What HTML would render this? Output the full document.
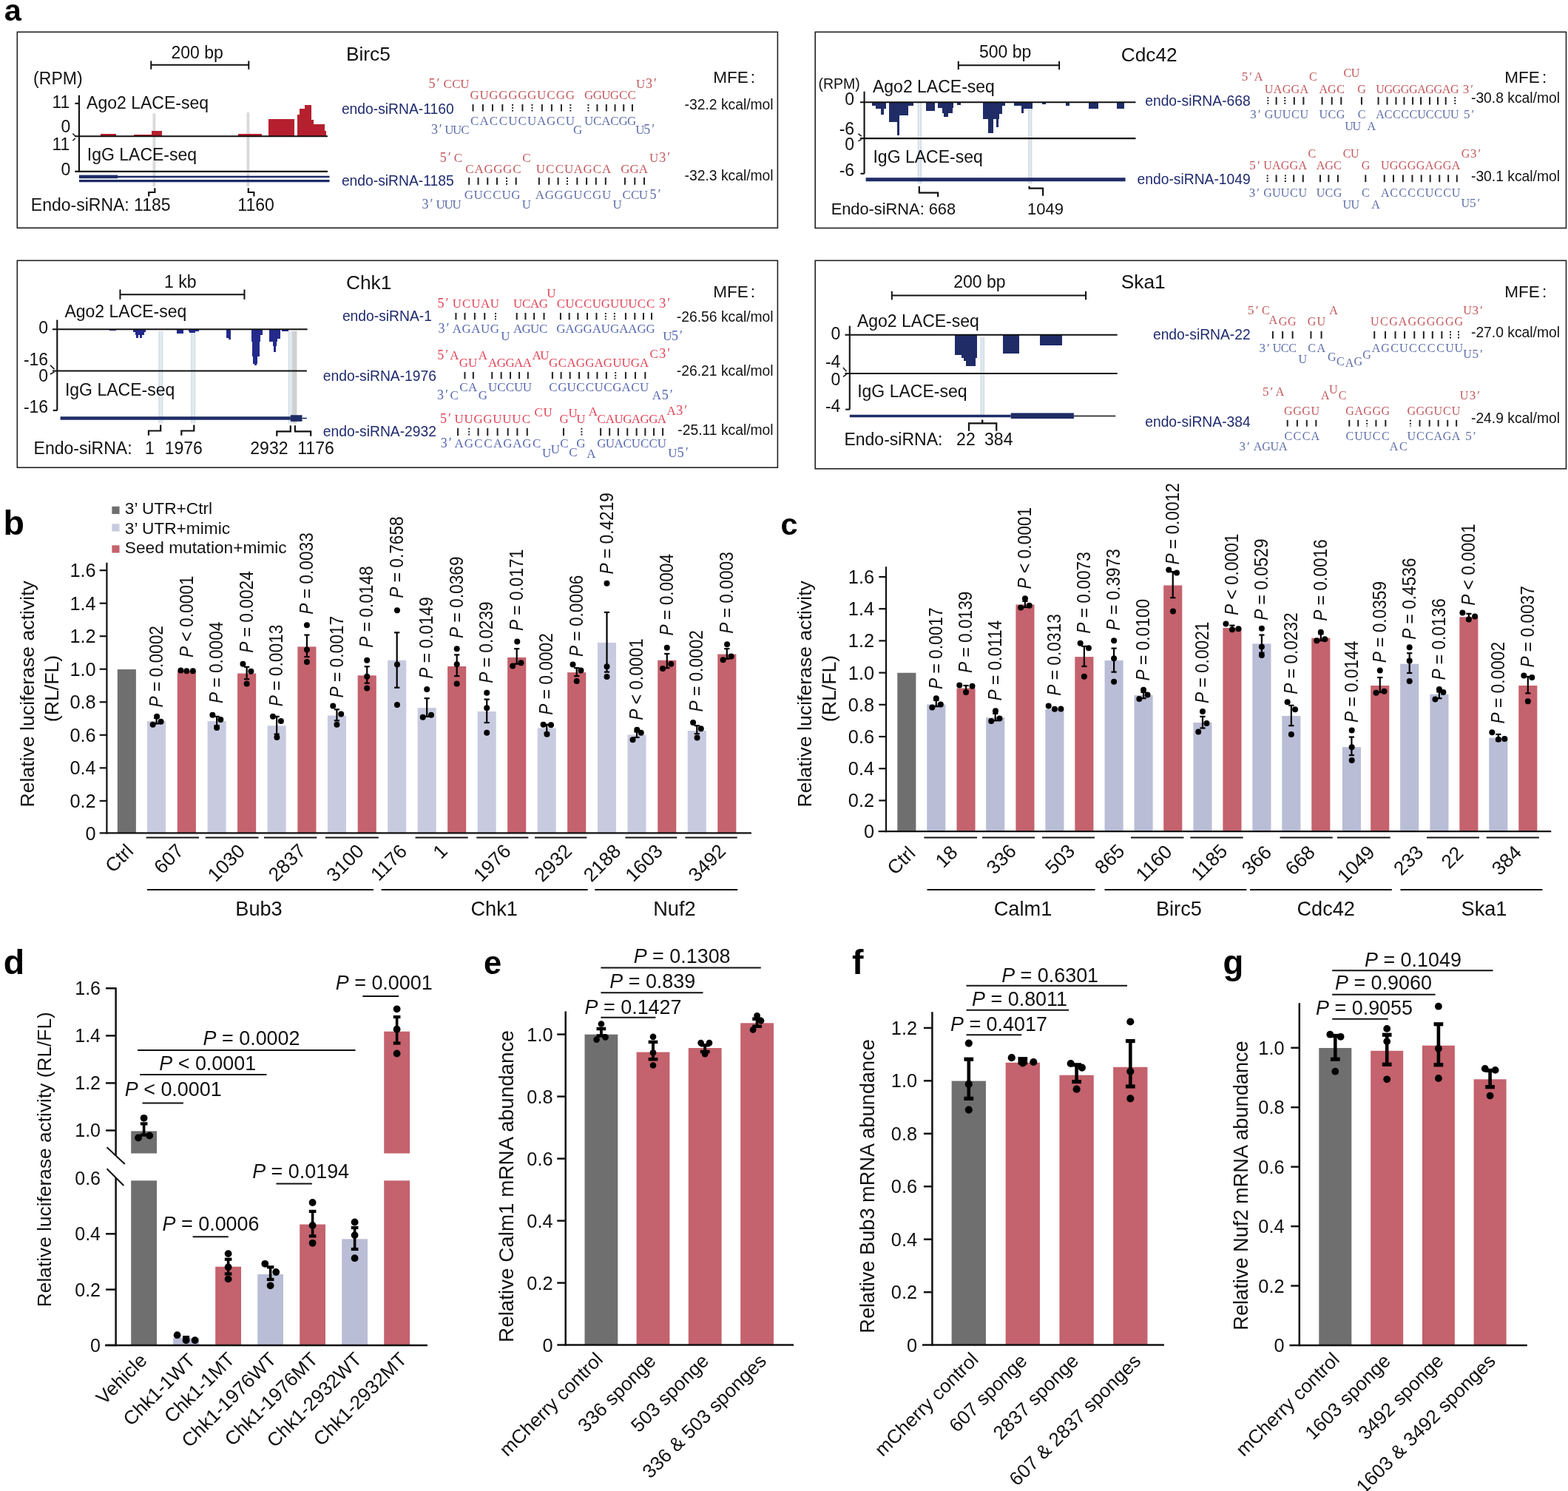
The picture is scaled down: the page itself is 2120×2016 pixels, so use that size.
<!DOCTYPE html>
<html lang="en">
<head>
<meta charset="utf-8">
<title>Figure</title>
<style>
html,body{margin:0;padding:0;background:#fff;}
body{width:2120px;height:2016px;overflow:hidden;}
svg{display:block;font-family:"Liberation Sans",Arial,sans-serif;fill:#111;}
</style>
</head>
<body>
<svg width="2120" height="2016" viewBox="0 0 2120 2016">
<rect x="0" y="0" width="2120" height="2016" fill="#ffffff"/>
<text font-size="41.5" fill="#000" font-weight="bold" x="5.8" y="27.5">a</text>
<rect x="23.3" y="43.3" width="1028.1" height="264.9" fill="none" stroke="#222" stroke-width="1.6"/>
<rect x="206.54" y="153.32" width="3.8" height="98.83" fill="#d9dadb"/>
<rect x="333.5" y="152.05" width="3.8" height="100.1" fill="#d9dadb"/>
<line x1="204.26" y1="87.68" x2="336.29" y2="87.68" stroke="#111" stroke-width="2"/>
<line x1="204.26" y1="82.36" x2="204.26" y2="93.77" stroke="#111" stroke-width="2"/>
<line x1="336.29" y1="82.36" x2="336.29" y2="93.77" stroke="#111" stroke-width="2"/>
<text font-size="23" text-anchor="middle" x="266.6" y="79.07">200 bp</text>
<text font-size="23" x="45.11" y="113.53">(RPM)</text>
<line x1="106.94" y1="128.74" x2="106.94" y2="232.13" stroke="#111" stroke-width="2.1"/>
<line x1="101.37" y1="139.89" x2="106.94" y2="139.89" stroke="#111" stroke-width="2.1"/>
<text font-size="23" text-anchor="end" x="94.27" y="145.72">11</text>
<text font-size="23" x="117.08" y="146.98">Ago2 LACE-seq</text>
<text font-size="23" text-anchor="end" x="95.29" y="179.42">0</text>
<rect x="135.58" y="181.45" width="21.54" height="2.79" fill="#b5202e" shape-rendering="crispEdges"/>
<rect x="181.2" y="181.7" width="24.08" height="2.53" fill="#b5202e" shape-rendering="crispEdges"/>
<rect x="205.27" y="177.14" width="13.94" height="7.1" fill="#b5202e" shape-rendering="crispEdges"/>
<rect x="321.84" y="181.2" width="31.68" height="3.04" fill="#b5202e" shape-rendering="crispEdges"/>
<rect x="362.9" y="160.92" width="35.48" height="23.31" fill="#b5202e" shape-rendering="crispEdges"/>
<rect x="402.43" y="154.59" width="3.04" height="29.65" fill="#b5202e" shape-rendering="crispEdges"/>
<rect x="405.47" y="147.49" width="6.34" height="36.75" fill="#b5202e" shape-rendering="crispEdges"/>
<rect x="411.81" y="141.92" width="9.38" height="42.32" fill="#b5202e" shape-rendering="crispEdges"/>
<rect x="421.19" y="162.19" width="2.53" height="22.05" fill="#b5202e" shape-rendering="crispEdges"/>
<rect x="423.72" y="167.76" width="15.21" height="16.47" fill="#b5202e" shape-rendering="crispEdges"/>
<rect x="438.93" y="177.39" width="2.53" height="6.84" fill="#b5202e" shape-rendering="crispEdges"/>
<line x1="101.37" y1="184.24" x2="442.98" y2="184.24" stroke="#111" stroke-width="2.1"/>
<line x1="98.33" y1="180.44" x2="101.88" y2="184.24" stroke="#111" stroke-width="1.5"/>
<line x1="98.33" y1="190.07" x2="101.88" y2="187.02" stroke="#111" stroke-width="1.5"/>
<text font-size="23" text-anchor="end" x="94.27" y="203.24">11</text>
<text font-size="23" x="117.84" y="217.18">IgG LACE-seq</text>
<text font-size="23" text-anchor="end" x="95.29" y="237.46">0</text>
<line x1="101.37" y1="231.88" x2="442.98" y2="231.88" stroke="#111" stroke-width="2.1"/>
<line x1="106.94" y1="238.98" x2="445.51" y2="238.98" stroke="#1e2c66" stroke-width="2.4"/>
<line x1="106.94" y1="244.55" x2="445.51" y2="244.55" stroke="#1e2c66" stroke-width="3.2"/>
<rect x="106.94" y="236.7" width="52.2" height="4.56" fill="#1e2c66"/>
<polyline points="209.33,254.18 209.33,260.01 201.22,260.01 201.22,265.59" fill="none" stroke="#111" stroke-width="2.2"/>
<polyline points="335.78,254.18 335.78,260.01 343.39,260.01 343.39,265.59" fill="none" stroke="#111" stroke-width="2.2"/>
<text font-size="23" x="41.81" y="285.1">Endo-siRNA: 1185</text>
<text font-size="23" x="321.34" y="285.1">1160</text>
<text font-size="26.3" x="467.91" y="81.85">Birc5</text>
<text font-size="22.5" x="964.33" y="111.96">MFE</text>
<text font-size="22.5" x="1014.84" y="111.96">:</text>
<text font-size="19.3" fill="#1f2a6e" x="461.89" y="153.77">endo-siRNA-1160</text>
<text font-size="19.3" text-anchor="end" x="1045.62" y="147.75">-32.2 kcal/mol</text>
<text font-size="19.3" fill="#1f2a6e" x="461.89" y="250.78">endo-siRNA-1185</text>
<text font-size="19.3" text-anchor="end" x="1045.62" y="244.09">-32.3 kcal/mol</text>
<text font-family="Liberation Serif, Liberation Mono, serif" font-size="16.96" text-anchor="middle" fill="#c2575a" x="605.23 616.8 628.37" y="118.65">CCU</text>
<text font-family="Liberation Serif, Liberation Mono, serif" font-size="17.98" text-anchor="middle" fill="#c2575a" letter-spacing="2" x="587.86" y="118.65">5′</text>
<text font-family="Liberation Serif, Liberation Mono, serif" font-size="16.96" text-anchor="middle" fill="#c2575a" x="866.09" y="118.65">U</text>
<text font-family="Liberation Serif, Liberation Mono, serif" font-size="17.98" text-anchor="middle" fill="#c2575a" letter-spacing="2" x="881.48" y="118.65">3′</text>
<text font-family="Liberation Serif, Liberation Mono, serif" font-size="16.96" text-anchor="middle" fill="#c2575a" x="641.63 654.55 667.48 680.4 693.32 706.25 719.17 732.1 745.02 757.95 770.87" y="133.7">GUGGGGGUCGG</text>
<text font-family="Liberation Serif, Liberation Mono, serif" font-size="16.96" text-anchor="middle" fill="#c2575a" x="796.18 807.77 819.37 830.97 842.56 854.16" y="133.7">GGUGCC</text>
<line x1="639.51" y1="141.06" x2="639.51" y2="150.43" stroke="#222" stroke-width="2"/>
<line x1="652.89" y1="141.06" x2="652.89" y2="150.43" stroke="#222" stroke-width="2"/>
<line x1="665.94" y1="141.06" x2="665.94" y2="150.43" stroke="#222" stroke-width="2"/>
<line x1="679.32" y1="141.06" x2="679.32" y2="150.43" stroke="#222" stroke-width="2"/>
<line x1="693.04" y1="141.06" x2="693.04" y2="150.43" stroke="#222" stroke-width="2" stroke-dasharray="2 1.8"/>
<line x1="706.42" y1="141.06" x2="706.42" y2="150.43" stroke="#222" stroke-width="2"/>
<line x1="719.46" y1="141.06" x2="719.46" y2="150.43" stroke="#222" stroke-width="2" stroke-dasharray="2 1.8"/>
<line x1="732.84" y1="141.06" x2="732.84" y2="150.43" stroke="#222" stroke-width="2"/>
<line x1="745.89" y1="141.06" x2="745.89" y2="150.43" stroke="#222" stroke-width="2"/>
<line x1="758.94" y1="141.06" x2="758.94" y2="150.43" stroke="#222" stroke-width="2"/>
<line x1="771.31" y1="141.06" x2="771.31" y2="150.43" stroke="#222" stroke-width="2" stroke-dasharray="2 1.8"/>
<line x1="795.4" y1="141.06" x2="795.4" y2="150.43" stroke="#222" stroke-width="2" stroke-dasharray="2 1.8"/>
<line x1="807.44" y1="141.06" x2="807.44" y2="150.43" stroke="#222" stroke-width="2"/>
<line x1="819.82" y1="141.06" x2="819.82" y2="150.43" stroke="#222" stroke-width="2"/>
<line x1="831.53" y1="141.06" x2="831.53" y2="150.43" stroke="#222" stroke-width="2"/>
<line x1="843.23" y1="141.06" x2="843.23" y2="150.43" stroke="#222" stroke-width="2"/>
<line x1="854.94" y1="141.06" x2="854.94" y2="150.43" stroke="#222" stroke-width="2"/>
<text font-family="Liberation Serif, Liberation Mono, serif" font-size="16.96" text-anchor="middle" fill="#5d6da8" x="641.63 654.55 667.48 680.4 693.32 706.25 719.17 732.1 745.02 757.95 770.87" y="169.49">CACCUCUAGCU</text>
<text font-family="Liberation Serif, Liberation Mono, serif" font-size="16.96" text-anchor="middle" fill="#5d6da8" x="796.18 807.77 819.37 830.97 842.56 854.16" y="169.49">UCACGG</text>
<text font-family="Liberation Serif, Liberation Mono, serif" font-size="16.96" text-anchor="middle" fill="#5d6da8" x="607.4 618.1 628.81" y="181.2">UUC</text>
<text font-family="Liberation Serif, Liberation Mono, serif" font-size="17.98" text-anchor="middle" fill="#5d6da8" letter-spacing="2" x="591.34" y="181.2">3′</text>
<text font-family="Liberation Serif, Liberation Mono, serif" font-size="16.96" text-anchor="middle" fill="#5d6da8" x="781.18" y="181.2">G</text>
<text font-family="Liberation Serif, Liberation Mono, serif" font-size="16.96" text-anchor="middle" fill="#5d6da8" x="865.42" y="181.2">U</text>
<text font-family="Liberation Serif, Liberation Mono, serif" font-size="17.98" text-anchor="middle" fill="#5d6da8" letter-spacing="2" x="878.8" y="181.2">5′</text>
<text font-family="Liberation Serif, Liberation Mono, serif" font-size="16.96" text-anchor="middle" fill="#c2575a" x="619.39" y="219">C</text>
<text font-family="Liberation Serif, Liberation Mono, serif" font-size="17.98" text-anchor="middle" fill="#c2575a" letter-spacing="2" x="603.16" y="219">5′</text>
<text font-family="Liberation Serif, Liberation Mono, serif" font-size="16.96" text-anchor="middle" fill="#c2575a" x="711.94" y="219">C</text>
<text font-family="Liberation Serif, Liberation Mono, serif" font-size="16.96" text-anchor="middle" fill="#c2575a" x="884.21" y="219">U</text>
<text font-family="Liberation Serif, Liberation Mono, serif" font-size="17.98" text-anchor="middle" fill="#c2575a" letter-spacing="2" x="899.77" y="219">3′</text>
<text font-family="Liberation Serif, Liberation Mono, serif" font-size="16.96" text-anchor="middle" fill="#c2575a" x="634.89 647.71 660.53 673.36 686.18 699" y="234.05">CAGGGC</text>
<text font-family="Liberation Serif, Liberation Mono, serif" font-size="16.96" text-anchor="middle" fill="#c2575a" x="730.86 743.61 756.36 769.12 781.87 794.62 807.38 820.13" y="234.05">UCCUAGCA</text>
<text font-family="Liberation Serif, Liberation Mono, serif" font-size="16.96" text-anchor="middle" fill="#c2575a" x="845.35 857.62 869.88" y="234.05">GGA</text>
<line x1="634.16" y1="240.08" x2="634.16" y2="249.78" stroke="#222" stroke-width="2"/>
<line x1="646.54" y1="240.08" x2="646.54" y2="249.78" stroke="#222" stroke-width="2"/>
<line x1="659.25" y1="240.08" x2="659.25" y2="249.78" stroke="#222" stroke-width="2"/>
<line x1="671.96" y1="240.08" x2="671.96" y2="249.78" stroke="#222" stroke-width="2"/>
<line x1="685.01" y1="240.08" x2="685.01" y2="249.78" stroke="#222" stroke-width="2" stroke-dasharray="2 1.8"/>
<line x1="697.72" y1="240.08" x2="697.72" y2="249.78" stroke="#222" stroke-width="2"/>
<line x1="728.83" y1="240.08" x2="728.83" y2="249.78" stroke="#222" stroke-width="2"/>
<line x1="742.21" y1="240.08" x2="742.21" y2="249.78" stroke="#222" stroke-width="2"/>
<line x1="754.59" y1="240.08" x2="754.59" y2="249.78" stroke="#222" stroke-width="2"/>
<line x1="766.96" y1="240.08" x2="766.96" y2="249.78" stroke="#222" stroke-width="2" stroke-dasharray="2 1.8"/>
<line x1="780.34" y1="240.08" x2="780.34" y2="249.78" stroke="#222" stroke-width="2"/>
<line x1="793.06" y1="240.08" x2="793.06" y2="249.78" stroke="#222" stroke-width="2"/>
<line x1="805.77" y1="240.08" x2="805.77" y2="249.78" stroke="#222" stroke-width="2"/>
<line x1="818.81" y1="240.08" x2="818.81" y2="249.78" stroke="#222" stroke-width="2"/>
<line x1="844.91" y1="240.08" x2="844.91" y2="249.78" stroke="#222" stroke-width="2"/>
<line x1="858.29" y1="240.08" x2="858.29" y2="249.78" stroke="#222" stroke-width="2"/>
<line x1="871" y1="240.08" x2="871" y2="249.78" stroke="#222" stroke-width="2"/>
<text font-family="Liberation Serif, Liberation Mono, serif" font-size="16.96" text-anchor="middle" fill="#5d6da8" x="633.83 646.54 659.25 671.96 684.67 697.38" y="269.18">GUCCUG</text>
<text font-family="Liberation Serif, Liberation Mono, serif" font-size="16.96" text-anchor="middle" fill="#5d6da8" x="729.92 742.8 755.67 768.55 781.43 794.31 807.19 820.07" y="269.18">AGGGUCGU</text>
<text font-family="Liberation Serif, Liberation Mono, serif" font-size="16.96" text-anchor="middle" fill="#5d6da8" x="847.25 858.62 869.99" y="269.18">CCU</text>
<text font-family="Liberation Serif, Liberation Mono, serif" font-size="17.98" text-anchor="middle" fill="#5d6da8" letter-spacing="2" x="887.06" y="269.18">5′</text>
<text font-family="Liberation Serif, Liberation Mono, serif" font-size="16.96" text-anchor="middle" fill="#5d6da8" x="595.52 606.56 617.6" y="281.56">UUU</text>
<text font-family="Liberation Serif, Liberation Mono, serif" font-size="17.98" text-anchor="middle" fill="#5d6da8" letter-spacing="2" x="578.97" y="281.56">3′</text>
<text font-family="Liberation Serif, Liberation Mono, serif" font-size="16.96" text-anchor="middle" fill="#5d6da8" x="711.94" y="281.56">U</text>
<text font-family="Liberation Serif, Liberation Mono, serif" font-size="16.96" text-anchor="middle" fill="#5d6da8" x="834.54" y="281.56">U</text>
<rect x="1102.2" y="43.3" width="1015.3" height="265.1" fill="none" stroke="#222" stroke-width="1.6"/>
<rect x="1241.29" y="138.97" width="4.05" height="109.48" fill="#e3ebf1"/>
<line x1="1241.29" y1="138.97" x2="1241.29" y2="248.45" stroke="#c3cfd9" stroke-width="0.9"/>
<line x1="1245.35" y1="138.97" x2="1245.35" y2="248.45" stroke="#c3cfd9" stroke-width="0.9"/>
<rect x="1390.81" y="138.97" width="4.05" height="109.48" fill="#e3ebf1"/>
<line x1="1390.81" y1="138.97" x2="1390.81" y2="248.45" stroke="#c3cfd9" stroke-width="0.9"/>
<line x1="1394.87" y1="138.97" x2="1394.87" y2="248.45" stroke="#c3cfd9" stroke-width="0.9"/>
<line x1="1295.78" y1="88.29" x2="1432.12" y2="88.29" stroke="#111" stroke-width="2"/>
<line x1="1295.78" y1="82.71" x2="1295.78" y2="94.12" stroke="#111" stroke-width="2"/>
<line x1="1432.12" y1="82.71" x2="1432.12" y2="94.12" stroke="#111" stroke-width="2"/>
<text font-size="23" text-anchor="middle" x="1359.13" y="78.15">500 bp</text>
<text font-size="19.5" x="1106.47" y="120.47">(RPM)</text>
<text font-size="23" x="1179.96" y="125.03">Ago2 LACE-seq</text>
<line x1="1168.56" y1="123.77" x2="1168.56" y2="234.76" stroke="#111" stroke-width="2.1"/>
<line x1="1163.49" y1="234.76" x2="1168.56" y2="234.76" stroke="#111" stroke-width="2.1"/>
<text font-size="23" text-anchor="end" x="1155.13" y="142.27">0</text>
<text font-size="23" text-anchor="end" x="1155.13" y="182.05">-6</text>
<text font-size="23" text-anchor="end" x="1155.13" y="203.09">0</text>
<text font-size="23" text-anchor="end" x="1155.13" y="238.31">-6</text>
<text font-size="23" x="1180.47" y="219.56">IgG LACE-seq</text>
<rect x="1178.7" y="138.21" width="19.01" height="4.56" fill="#1f2c66" shape-rendering="crispEdges"/>
<rect x="1183.77" y="138.21" width="13.94" height="8.87" fill="#1f2c66" shape-rendering="crispEdges"/>
<rect x="1190.86" y="138.21" width="4.31" height="16.47" fill="#1f2c66" shape-rendering="crispEdges"/>
<rect x="1202.27" y="138.21" width="25.85" height="17.74" fill="#1f2c66" shape-rendering="crispEdges"/>
<rect x="1202.27" y="138.21" width="13.68" height="26.86" fill="#1f2c66" shape-rendering="crispEdges"/>
<rect x="1213.42" y="138.21" width="2.53" height="44.6" fill="#1f2c66" shape-rendering="crispEdges"/>
<rect x="1228.11" y="138.21" width="6.84" height="5.07" fill="#1f2c66" shape-rendering="crispEdges"/>
<rect x="1251.68" y="138.21" width="12.67" height="11.4" fill="#1f2c66" shape-rendering="crispEdges"/>
<rect x="1267.9" y="138.21" width="21.03" height="7.86" fill="#1f2c66" shape-rendering="crispEdges"/>
<rect x="1273.73" y="138.21" width="13.94" height="14.7" fill="#1f2c66" shape-rendering="crispEdges"/>
<rect x="1276.26" y="138.21" width="5.58" height="20.27" fill="#1f2c66" shape-rendering="crispEdges"/>
<rect x="1293.5" y="138.21" width="5.07" height="3.29" fill="#1f2c66" shape-rendering="crispEdges"/>
<rect x="1329.48" y="138.21" width="29.65" height="5.07" fill="#1f2c66" shape-rendering="crispEdges"/>
<rect x="1329.48" y="138.21" width="25.34" height="15.97" fill="#1f2c66" shape-rendering="crispEdges"/>
<rect x="1329.48" y="138.21" width="21.54" height="22.3" fill="#1f2c66" shape-rendering="crispEdges"/>
<rect x="1336.33" y="138.21" width="7.1" height="41.81" fill="#1f2c66" shape-rendering="crispEdges"/>
<rect x="1347.22" y="138.21" width="2.53" height="33.71" fill="#1f2c66" shape-rendering="crispEdges"/>
<rect x="1371.3" y="138.21" width="24.58" height="5.07" fill="#1f2c66" shape-rendering="crispEdges"/>
<rect x="1381.43" y="138.21" width="14.45" height="8.87" fill="#1f2c66" shape-rendering="crispEdges"/>
<rect x="1381.43" y="138.21" width="3.04" height="14.7" fill="#1f2c66" shape-rendering="crispEdges"/>
<rect x="1408.8" y="138.21" width="5.58" height="2.53" fill="#1f2c66" shape-rendering="crispEdges"/>
<rect x="1440.99" y="138.21" width="5.07" height="4.56" fill="#1f2c66" shape-rendering="crispEdges"/>
<rect x="1471.91" y="138.21" width="13.43" height="8.36" fill="#1f2c66" shape-rendering="crispEdges"/>
<rect x="1509.92" y="138.21" width="9.63" height="8.87" fill="#1f2c66" shape-rendering="crispEdges"/>
<line x1="1162.99" y1="138.21" x2="1535.51" y2="138.21" stroke="#111" stroke-width="2"/>
<line x1="1162.99" y1="187.12" x2="1535.51" y2="187.12" stroke="#111" stroke-width="2.1"/>
<line x1="1160.45" y1="180.79" x2="1164.76" y2="184.08" stroke="#111" stroke-width="1.5"/>
<line x1="1160.45" y1="190.92" x2="1164.76" y2="188.39" stroke="#111" stroke-width="1.5"/>
<line x1="1170.59" y1="242.87" x2="1521.58" y2="242.87" stroke="#1f2c66" stroke-width="5"/>
<polyline points="1242.81,251.74 1242.81,260.61 1268.16,260.61 1268.16,266.19" fill="none" stroke="#111" stroke-width="2.2"/>
<polyline points="1391.57,251.74 1391.57,254.53 1410.07,254.53 1410.07,264.67" fill="none" stroke="#111" stroke-width="2.2"/>
<text font-size="21.8" x="1123.71" y="289.76">Endo-siRNA: 668</text>
<text font-size="22" x="1389.04" y="289.76">1049</text>
<text font-size="26.3" x="1515.71" y="83.42">Cdc42</text>
<text font-size="22.5" x="2034.21" y="112.33">MFE</text>
<text font-size="22.5" x="2085.12" y="112.33">:</text>
<text font-size="19.3" text-anchor="end" fill="#1f2a6e" x="1690.75" y="143.13">endo-siRNA-668</text>
<text font-size="19.3" text-anchor="end" x="2109" y="139.36">-30.8 kcal/mol</text>
<text font-size="19.3" text-anchor="end" fill="#1f2a6e" x="1690.75" y="249.03">endo-siRNA-1049</text>
<text font-size="19.3" text-anchor="end" x="2109" y="245.26">-30.1 kcal/mol</text>
<text font-family="Liberation Serif, Liberation Mono, serif" font-size="16.09" text-anchor="middle" fill="#c2575a" x="1821.78 1832.47" y="104.16">CU</text>
<text font-family="Liberation Serif, Liberation Mono, serif" font-size="16.09" text-anchor="middle" fill="#c2575a" x="1701.53" y="109.19">A</text>
<text font-family="Liberation Serif, Liberation Mono, serif" font-size="17.06" text-anchor="middle" fill="#c2575a" letter-spacing="2" x="1686.76" y="109.19">5′</text>
<text font-family="Liberation Serif, Liberation Mono, serif" font-size="16.09" text-anchor="middle" fill="#c2575a" x="1775.43" y="108.56">C</text>
<text font-family="Liberation Serif, Liberation Mono, serif" font-size="16.09" text-anchor="middle" fill="#c2575a" x="1715.57 1727.51 1739.45 1751.39 1763.34" y="125.84">UAGGA</text>
<text font-family="Liberation Serif, Liberation Mono, serif" font-size="16.09" text-anchor="middle" fill="#c2575a" x="1789.26 1800.89 1812.51" y="125.84">AGC</text>
<text font-family="Liberation Serif, Liberation Mono, serif" font-size="16.09" text-anchor="middle" fill="#c2575a" x="1841.11" y="125.84">G</text>
<text font-family="Liberation Serif, Liberation Mono, serif" font-size="16.09" text-anchor="middle" fill="#c2575a" x="1866.03 1877.22 1888.4 1899.59 1910.78 1921.96 1933.15 1944.34 1955.53 1966.71" y="125.84">UGGGGAGGAG</text>
<text font-family="Liberation Serif, Liberation Mono, serif" font-size="17.06" text-anchor="middle" fill="#c2575a" letter-spacing="2" x="1985.82" y="125.84">3′</text>
<line x1="1714.31" y1="131.19" x2="1714.31" y2="141.56" stroke="#222" stroke-width="2" stroke-dasharray="2 1.8"/>
<line x1="1725.63" y1="131.19" x2="1725.63" y2="141.56" stroke="#222" stroke-width="2"/>
<line x1="1737.25" y1="131.19" x2="1737.25" y2="141.56" stroke="#222" stroke-width="2" stroke-dasharray="2 1.8"/>
<line x1="1749.82" y1="131.19" x2="1749.82" y2="141.56" stroke="#222" stroke-width="2"/>
<line x1="1762.39" y1="131.19" x2="1762.39" y2="141.56" stroke="#222" stroke-width="2"/>
<line x1="1787.53" y1="131.19" x2="1787.53" y2="141.56" stroke="#222" stroke-width="2"/>
<line x1="1800.73" y1="131.19" x2="1800.73" y2="141.56" stroke="#222" stroke-width="2"/>
<line x1="1813.3" y1="131.19" x2="1813.3" y2="141.56" stroke="#222" stroke-width="2"/>
<line x1="1840.95" y1="131.19" x2="1840.95" y2="141.56" stroke="#222" stroke-width="2"/>
<line x1="1863.58" y1="131.19" x2="1863.58" y2="141.56" stroke="#222" stroke-width="2"/>
<line x1="1875.52" y1="131.19" x2="1875.52" y2="141.56" stroke="#222" stroke-width="2"/>
<line x1="1887.46" y1="131.19" x2="1887.46" y2="141.56" stroke="#222" stroke-width="2"/>
<line x1="1898.46" y1="131.19" x2="1898.46" y2="141.56" stroke="#222" stroke-width="2"/>
<line x1="1910.09" y1="131.19" x2="1910.09" y2="141.56" stroke="#222" stroke-width="2"/>
<line x1="1921.08" y1="131.19" x2="1921.08" y2="141.56" stroke="#222" stroke-width="2"/>
<line x1="1933.03" y1="131.19" x2="1933.03" y2="141.56" stroke="#222" stroke-width="2"/>
<line x1="1944.02" y1="131.19" x2="1944.02" y2="141.56" stroke="#222" stroke-width="2"/>
<line x1="1954.71" y1="131.19" x2="1954.71" y2="141.56" stroke="#222" stroke-width="2"/>
<line x1="1967.28" y1="131.19" x2="1967.28" y2="141.56" stroke="#222" stroke-width="2" stroke-dasharray="2 1.8"/>
<text font-family="Liberation Serif, Liberation Mono, serif" font-size="17.06" text-anchor="middle" fill="#5d6da8" letter-spacing="2" x="1698.44" y="160.41">3′</text>
<text font-family="Liberation Serif, Liberation Mono, serif" font-size="16.09" text-anchor="middle" fill="#5d6da8" x="1715.57 1727.51 1739.45 1751.39 1763.34" y="160.41">GUUCU</text>
<text font-family="Liberation Serif, Liberation Mono, serif" font-size="16.09" text-anchor="middle" fill="#5d6da8" x="1789.26 1800.89 1812.51" y="160.41">UCG</text>
<text font-family="Liberation Serif, Liberation Mono, serif" font-size="16.09" text-anchor="middle" fill="#5d6da8" x="1841.11" y="160.41">C</text>
<text font-family="Liberation Serif, Liberation Mono, serif" font-size="16.09" text-anchor="middle" fill="#5d6da8" x="1866.03 1877.22 1888.4 1899.59 1910.78 1921.96 1933.15 1944.34 1955.53 1966.71" y="160.41">ACCCCUCCUU</text>
<text font-family="Liberation Serif, Liberation Mono, serif" font-size="17.06" text-anchor="middle" fill="#5d6da8" letter-spacing="2" x="1987.08" y="160.41">5′</text>
<text font-family="Liberation Serif, Liberation Mono, serif" font-size="16.09" text-anchor="middle" fill="#5d6da8" x="1824.06 1834.28" y="176.44">UU</text>
<text font-family="Liberation Serif, Liberation Mono, serif" font-size="16.09" text-anchor="middle" fill="#5d6da8" x="1854.31" y="176.44">A</text>
<text font-family="Liberation Serif, Liberation Mono, serif" font-size="16.09" text-anchor="middle" fill="#c2575a" x="1773.86" y="213.2">C</text>
<text font-family="Liberation Serif, Liberation Mono, serif" font-size="16.09" text-anchor="middle" fill="#c2575a" x="1821.16 1831.84" y="213.2">CU</text>
<text font-family="Liberation Serif, Liberation Mono, serif" font-size="16.09" text-anchor="middle" fill="#c2575a" x="1981.58" y="213.2">G</text>
<text font-family="Liberation Serif, Liberation Mono, serif" font-size="17.06" text-anchor="middle" fill="#c2575a" letter-spacing="2" x="1996.19" y="213.2">3′</text>
<text font-family="Liberation Serif, Liberation Mono, serif" font-size="17.06" text-anchor="middle" fill="#c2575a" letter-spacing="2" x="1697.5" y="228.6">5′</text>
<text font-family="Liberation Serif, Liberation Mono, serif" font-size="16.09" text-anchor="middle" fill="#c2575a" x="1713.94 1725.75 1737.57 1749.38 1761.2" y="228.6">UAGGA</text>
<text font-family="Liberation Serif, Liberation Mono, serif" font-size="16.09" text-anchor="middle" fill="#c2575a" x="1785.44 1796.96 1808.48" y="228.6">AGC</text>
<text font-family="Liberation Serif, Liberation Mono, serif" font-size="16.09" text-anchor="middle" fill="#c2575a" x="1846.45" y="228.6">G</text>
<text font-family="Liberation Serif, Liberation Mono, serif" font-size="16.09" text-anchor="middle" fill="#c2575a" x="1872.71 1884.68 1896.66 1908.64 1920.61 1932.59 1944.57 1956.54 1968.52" y="228.6">UGGGGAGGA</text>
<line x1="1713.68" y1="236.46" x2="1713.68" y2="246.2" stroke="#222" stroke-width="2" stroke-dasharray="2 1.8"/>
<line x1="1725.63" y1="236.46" x2="1725.63" y2="246.2" stroke="#222" stroke-width="2"/>
<line x1="1737.88" y1="236.46" x2="1737.88" y2="246.2" stroke="#222" stroke-width="2" stroke-dasharray="2 1.8"/>
<line x1="1749.19" y1="236.46" x2="1749.19" y2="246.2" stroke="#222" stroke-width="2"/>
<line x1="1761.76" y1="236.46" x2="1761.76" y2="246.2" stroke="#222" stroke-width="2"/>
<line x1="1785.02" y1="236.46" x2="1785.02" y2="246.2" stroke="#222" stroke-width="2"/>
<line x1="1796.33" y1="236.46" x2="1796.33" y2="246.2" stroke="#222" stroke-width="2"/>
<line x1="1808.9" y1="236.46" x2="1808.9" y2="246.2" stroke="#222" stroke-width="2"/>
<line x1="1846.29" y1="236.46" x2="1846.29" y2="246.2" stroke="#222" stroke-width="2"/>
<line x1="1871.75" y1="236.46" x2="1871.75" y2="246.2" stroke="#222" stroke-width="2"/>
<line x1="1884" y1="236.46" x2="1884" y2="246.2" stroke="#222" stroke-width="2"/>
<line x1="1896.89" y1="236.46" x2="1896.89" y2="246.2" stroke="#222" stroke-width="2"/>
<line x1="1909.46" y1="236.46" x2="1909.46" y2="246.2" stroke="#222" stroke-width="2"/>
<line x1="1921.71" y1="236.46" x2="1921.71" y2="246.2" stroke="#222" stroke-width="2"/>
<line x1="1933.65" y1="236.46" x2="1933.65" y2="246.2" stroke="#222" stroke-width="2"/>
<line x1="1946.22" y1="236.46" x2="1946.22" y2="246.2" stroke="#222" stroke-width="2"/>
<line x1="1958.17" y1="236.46" x2="1958.17" y2="246.2" stroke="#222" stroke-width="2"/>
<line x1="1969.79" y1="236.46" x2="1969.79" y2="246.2" stroke="#222" stroke-width="2"/>
<text font-family="Liberation Serif, Liberation Mono, serif" font-size="17.06" text-anchor="middle" fill="#5d6da8" letter-spacing="2" x="1696.87" y="266.31">3′</text>
<text font-family="Liberation Serif, Liberation Mono, serif" font-size="16.09" text-anchor="middle" fill="#5d6da8" x="1713.94 1725.75 1737.57 1749.38 1761.2" y="266.31">GUUCU</text>
<text font-family="Liberation Serif, Liberation Mono, serif" font-size="16.09" text-anchor="middle" fill="#5d6da8" x="1785.44 1796.96 1808.48" y="266.31">UCG</text>
<text font-family="Liberation Serif, Liberation Mono, serif" font-size="16.09" text-anchor="middle" fill="#5d6da8" x="1846.45" y="266.31">C</text>
<text font-family="Liberation Serif, Liberation Mono, serif" font-size="16.09" text-anchor="middle" fill="#5d6da8" x="1872.71 1884.68 1896.66 1908.64 1920.61 1932.59 1944.57 1956.54 1968.52" y="266.31">ACCCCUCCU</text>
<text font-family="Liberation Serif, Liberation Mono, serif" font-size="16.09" text-anchor="middle" fill="#5d6da8" x="1821.31 1832.31" y="282.02">UU</text>
<text font-family="Liberation Serif, Liberation Mono, serif" font-size="16.09" text-anchor="middle" fill="#5d6da8" x="1860.12" y="282.02">A</text>
<text font-family="Liberation Serif, Liberation Mono, serif" font-size="16.09" text-anchor="middle" fill="#5d6da8" x="1981.31" y="279.82">U</text>
<text font-family="Liberation Serif, Liberation Mono, serif" font-size="17.06" text-anchor="middle" fill="#5d6da8" letter-spacing="2" x="1995.14" y="279.82">5′</text>
<rect x="23.3" y="352.3" width="1028.1" height="279.9" fill="none" stroke="#222" stroke-width="1.6"/>
<rect x="214.9" y="447.7" width="4.82" height="124.68" fill="#e2ebf1"/>
<line x1="214.9" y1="447.7" x2="214.9" y2="572.39" stroke="#c6d2db" stroke-width="0.9"/>
<line x1="219.72" y1="447.7" x2="219.72" y2="572.39" stroke="#c6d2db" stroke-width="0.9"/>
<rect x="258.74" y="447.7" width="4.82" height="124.68" fill="#e2ebf1"/>
<line x1="258.74" y1="447.7" x2="258.74" y2="572.39" stroke="#c6d2db" stroke-width="0.9"/>
<line x1="263.56" y1="447.7" x2="263.56" y2="572.39" stroke="#c6d2db" stroke-width="0.9"/>
<rect x="390.27" y="447.7" width="4.82" height="124.68" fill="#e2ebf1"/>
<line x1="390.27" y1="447.7" x2="390.27" y2="572.39" stroke="#c6d2db" stroke-width="0.9"/>
<line x1="395.08" y1="447.7" x2="395.08" y2="572.39" stroke="#c6d2db" stroke-width="0.9"/>
<rect x="395.34" y="447.7" width="6.08" height="124.68" fill="#cfd0d0"/>
<line x1="162.44" y1="398.29" x2="330.46" y2="398.29" stroke="#111" stroke-width="2"/>
<line x1="162.44" y1="391.44" x2="162.44" y2="404.88" stroke="#111" stroke-width="2"/>
<line x1="330.46" y1="391.44" x2="330.46" y2="404.88" stroke="#111" stroke-width="2"/>
<text font-size="23" text-anchor="middle" x="243.79" y="388.91">1 kb</text>
<text font-size="23" x="87.43" y="429.2">Ago2 LACE-seq</text>
<line x1="77.29" y1="432.5" x2="77.29" y2="554.9" stroke="#111" stroke-width="2.1"/>
<line x1="71.72" y1="554.9" x2="77.29" y2="554.9" stroke="#111" stroke-width="2.1"/>
<text font-size="23" text-anchor="end" x="65.13" y="450.75">0</text>
<text font-size="23" text-anchor="end" x="65.13" y="494.08">-16</text>
<text font-size="23" text-anchor="end" x="65.13" y="515.62">0</text>
<text font-size="23" text-anchor="end" x="65.13" y="557.94">-16</text>
<text font-size="23" x="87.94" y="535.13">IgG LACE-seq</text>
<rect x="148.25" y="445.17" width="8.87" height="1.52" fill="#232a8c" shape-rendering="crispEdges"/>
<rect x="180.44" y="445.17" width="16.73" height="4.31" fill="#232a8c" shape-rendering="crispEdges"/>
<rect x="182.97" y="445.17" width="11.66" height="8.11" fill="#232a8c" shape-rendering="crispEdges"/>
<rect x="184.49" y="445.17" width="2.28" height="12.16" fill="#232a8c" shape-rendering="crispEdges"/>
<rect x="188.8" y="445.17" width="3.29" height="11.4" fill="#232a8c" shape-rendering="crispEdges"/>
<rect x="239.48" y="445.17" width="8.87" height="5.58" fill="#232a8c" shape-rendering="crispEdges"/>
<rect x="254.69" y="445.17" width="13.94" height="2.79" fill="#232a8c" shape-rendering="crispEdges"/>
<rect x="255.96" y="445.17" width="8.11" height="4.56" fill="#232a8c" shape-rendering="crispEdges"/>
<rect x="305.88" y="445.17" width="5.83" height="11.91" fill="#232a8c" shape-rendering="crispEdges"/>
<rect x="308.67" y="445.17" width="3.04" height="13.94" fill="#232a8c" shape-rendering="crispEdges"/>
<rect x="339.58" y="445.17" width="15.21" height="7.6" fill="#232a8c" shape-rendering="crispEdges"/>
<rect x="340.34" y="445.17" width="11.91" height="16.47" fill="#232a8c" shape-rendering="crispEdges"/>
<rect x="340.85" y="445.17" width="10.14" height="36.75" fill="#232a8c" shape-rendering="crispEdges"/>
<rect x="342.12" y="445.17" width="6.34" height="46.88" fill="#232a8c" shape-rendering="crispEdges"/>
<rect x="344.15" y="445.17" width="3.04" height="48.66" fill="#232a8c" shape-rendering="crispEdges"/>
<rect x="364.17" y="445.17" width="15.21" height="12.67" fill="#232a8c" shape-rendering="crispEdges"/>
<rect x="364.17" y="445.17" width="10.9" height="16.47" fill="#232a8c" shape-rendering="crispEdges"/>
<rect x="368.73" y="445.17" width="5.07" height="22.81" fill="#232a8c" shape-rendering="crispEdges"/>
<rect x="369.99" y="445.17" width="2.53" height="30.92" fill="#232a8c" shape-rendering="crispEdges"/>
<rect x="380.89" y="445.17" width="9.38" height="3.04" fill="#232a8c" shape-rendering="crispEdges"/>
<line x1="70.96" y1="445.17" x2="415.61" y2="445.17" stroke="#111" stroke-width="2"/>
<line x1="70.96" y1="501.43" x2="414.85" y2="501.43" stroke="#111" stroke-width="2.1"/>
<line x1="67.92" y1="493.83" x2="73.49" y2="499.15" stroke="#111" stroke-width="1.5"/>
<line x1="67.92" y1="505.99" x2="73.49" y2="502.95" stroke="#111" stroke-width="1.5"/>
<line x1="81.6" y1="565.54" x2="392.8" y2="565.54" stroke="#1e2c66" stroke-width="4.6"/>
<rect x="392.8" y="561.24" width="15.71" height="8.62" fill="#1e2c66"/>
<line x1="408.51" y1="565.54" x2="414.85" y2="565.54" stroke="#1e2c66" stroke-width="1.6"/>
<polyline points="217.18,574.41 217.18,582.52 200.96,582.52 200.96,588.86" fill="none" stroke="#111" stroke-width="2.2"/>
<polyline points="262.29,574.41 262.29,582.52 245.31,582.52 245.31,588.86" fill="none" stroke="#111" stroke-width="2.2"/>
<polyline points="392.8,575.17 392.8,583.28 374.3,583.28 374.3,589.87" fill="none" stroke="#111" stroke-width="2.2"/>
<polyline points="398.88,575.17 398.88,583.28 420.17,583.28 420.17,589.87" fill="none" stroke="#111" stroke-width="2.2"/>
<text font-size="23" x="45.62" y="613.69">Endo-siRNA:</text>
<text font-size="23" text-anchor="middle" x="202.48" y="613.69">1</text>
<text font-size="23" text-anchor="middle" x="248.35" y="613.69">1976</text>
<text font-size="23" text-anchor="middle" x="363.91" y="613.69">2932</text>
<text font-size="23" text-anchor="middle" x="427.01" y="613.69">1176</text>
<text font-size="26.3" x="467.91" y="390.85">Chk1</text>
<text font-size="22.5" x="964.33" y="401.89">MFE</text>
<text font-size="22.5" x="1014.84" y="401.89">:</text>
<text font-size="19.3" text-anchor="end" fill="#1f2a6e" x="583.98" y="434.33">endo-siRNA-1</text>
<text font-size="19.3" text-anchor="end" fill="#1f2a6e" x="590.01" y="514.95">endo-siRNA-1976</text>
<text font-size="19.3" text-anchor="end" fill="#1f2a6e" x="590.01" y="589.88">endo-siRNA-2932</text>
<text font-size="19.3" text-anchor="end" x="1045.62" y="435.34">-26.56 kcal/mol</text>
<text font-size="19.3" text-anchor="end" x="1045.62" y="507.93">-26.21 kcal/mol</text>
<text font-size="19.3" text-anchor="end" x="1045.62" y="587.54">-25.11 kcal/mol</text>
<text font-family="Liberation Serif, Liberation Mono, serif" font-size="16.96" text-anchor="middle" fill="#e04355" x="745.39" y="401.89">U</text>
<text font-family="Liberation Serif, Liberation Mono, serif" font-size="17.98" text-anchor="middle" fill="#e04355" letter-spacing="2" x="599.87" y="416.27">5′</text>
<text font-family="Liberation Serif, Liberation Mono, serif" font-size="16.96" text-anchor="middle" fill="#e04355" x="617.8 630.58 643.36 656.14 668.92" y="416.27">UCUAU</text>
<text font-family="Liberation Serif, Liberation Mono, serif" font-size="16.96" text-anchor="middle" fill="#e04355" x="700.14 711.69 723.23 734.77" y="416.27">UCAG</text>
<text font-family="Liberation Serif, Liberation Mono, serif" font-size="16.96" text-anchor="middle" fill="#e04355" x="758.31 770.45 782.58 794.71 806.85 818.98 831.12 843.25 855.38 867.52 879.65" y="416.27">CUCCUGUUUCC</text>
<text font-family="Liberation Serif, Liberation Mono, serif" font-size="17.98" text-anchor="middle" fill="#e04355" letter-spacing="2" x="899.77" y="416.27">3′</text>
<line x1="616.43" y1="422.96" x2="616.43" y2="432.33" stroke="#222" stroke-width="2"/>
<line x1="628.47" y1="422.96" x2="628.47" y2="432.33" stroke="#222" stroke-width="2"/>
<line x1="641.86" y1="422.96" x2="641.86" y2="432.33" stroke="#222" stroke-width="2"/>
<line x1="655.24" y1="422.96" x2="655.24" y2="432.33" stroke="#222" stroke-width="2"/>
<line x1="669.95" y1="422.96" x2="669.95" y2="432.33" stroke="#222" stroke-width="2" stroke-dasharray="2 1.8"/>
<line x1="698.72" y1="422.96" x2="698.72" y2="432.33" stroke="#222" stroke-width="2"/>
<line x1="710.43" y1="422.96" x2="710.43" y2="432.33" stroke="#222" stroke-width="2"/>
<line x1="722.14" y1="422.96" x2="722.14" y2="432.33" stroke="#222" stroke-width="2"/>
<line x1="735.52" y1="422.96" x2="735.52" y2="432.33" stroke="#222" stroke-width="2"/>
<line x1="757.93" y1="422.96" x2="757.93" y2="432.33" stroke="#222" stroke-width="2"/>
<line x1="769.64" y1="422.96" x2="769.64" y2="432.33" stroke="#222" stroke-width="2"/>
<line x1="781.35" y1="422.96" x2="781.35" y2="432.33" stroke="#222" stroke-width="2"/>
<line x1="794.06" y1="422.96" x2="794.06" y2="432.33" stroke="#222" stroke-width="2"/>
<line x1="806.44" y1="422.96" x2="806.44" y2="432.33" stroke="#222" stroke-width="2"/>
<line x1="818.81" y1="422.96" x2="818.81" y2="432.33" stroke="#222" stroke-width="2" stroke-dasharray="2 1.8"/>
<line x1="830.86" y1="422.96" x2="830.86" y2="432.33" stroke="#222" stroke-width="2" stroke-dasharray="2 1.8"/>
<line x1="845.91" y1="422.96" x2="845.91" y2="432.33" stroke="#222" stroke-width="2"/>
<line x1="858.29" y1="422.96" x2="858.29" y2="432.33" stroke="#222" stroke-width="2"/>
<line x1="869.99" y1="422.96" x2="869.99" y2="432.33" stroke="#222" stroke-width="2"/>
<line x1="881.03" y1="422.96" x2="881.03" y2="432.33" stroke="#222" stroke-width="2"/>
<text font-family="Liberation Serif, Liberation Mono, serif" font-size="17.98" text-anchor="middle" fill="#5566b0" letter-spacing="2" x="600.88" y="450.39">3′</text>
<text font-family="Liberation Serif, Liberation Mono, serif" font-size="16.96" text-anchor="middle" fill="#5566b0" x="617.8 630.58 643.36 656.14 668.92" y="450.39">AGAUG</text>
<text font-family="Liberation Serif, Liberation Mono, serif" font-size="16.96" text-anchor="middle" fill="#5566b0" x="700.14 711.69 723.23 734.77" y="450.39">AGUC</text>
<text font-family="Liberation Serif, Liberation Mono, serif" font-size="16.96" text-anchor="middle" fill="#5566b0" x="758.31 770.45 782.58 794.71 806.85 818.98 831.12 843.25 855.38 867.52 879.65" y="450.39">GAGGAUGAAGG</text>
<text font-family="Liberation Serif, Liberation Mono, serif" font-size="16.96" text-anchor="middle" fill="#5566b0" x="683.34" y="460.43">U</text>
<text font-family="Liberation Serif, Liberation Mono, serif" font-size="16.96" text-anchor="middle" fill="#5566b0" x="902.44" y="460.43">U</text>
<text font-family="Liberation Serif, Liberation Mono, serif" font-size="17.98" text-anchor="middle" fill="#5566b0" letter-spacing="2" x="916.49" y="460.43">5′</text>
<text font-family="Liberation Serif, Liberation Mono, serif" font-size="16.96" text-anchor="middle" fill="#e04355" x="614.26" y="486.18">A</text>
<text font-family="Liberation Serif, Liberation Mono, serif" font-size="17.98" text-anchor="middle" fill="#e04355" letter-spacing="2" x="599.71" y="486.18">5′</text>
<text font-family="Liberation Serif, Liberation Mono, serif" font-size="16.96" text-anchor="middle" fill="#e04355" x="652.89" y="486.18">A</text>
<text font-family="Liberation Serif, Liberation Mono, serif" font-size="16.96" text-anchor="middle" fill="#e04355" x="725.57 736.44" y="486.18">AU</text>
<text font-family="Liberation Serif, Liberation Mono, serif" font-size="16.96" text-anchor="middle" fill="#e04355" x="884.21" y="483.84">C</text>
<text font-family="Liberation Serif, Liberation Mono, serif" font-size="17.98" text-anchor="middle" fill="#e04355" letter-spacing="2" x="899.77" y="483.84">3′</text>
<text font-family="Liberation Serif, Liberation Mono, serif" font-size="16.96" text-anchor="middle" fill="#e04355" x="626.89 639.1" y="496.22">GU</text>
<text font-family="Liberation Serif, Liberation Mono, serif" font-size="16.96" text-anchor="middle" fill="#e04355" x="666.11 677.82 689.52 701.23 712.94" y="496.22">AGGAA</text>
<text font-family="Liberation Serif, Liberation Mono, serif" font-size="16.96" text-anchor="middle" fill="#e04355" x="748.03 760.35 772.67 784.98 797.3 809.61 821.93 834.25 846.56 858.88 871.2" y="496.22">GCAGGAGUUGA</text>
<line x1="628.47" y1="502.91" x2="628.47" y2="512.28" stroke="#222" stroke-width="2"/>
<line x1="639.85" y1="502.91" x2="639.85" y2="512.28" stroke="#222" stroke-width="2"/>
<line x1="665.27" y1="502.91" x2="665.27" y2="512.28" stroke="#222" stroke-width="2"/>
<line x1="677.65" y1="502.91" x2="677.65" y2="512.28" stroke="#222" stroke-width="2"/>
<line x1="690.03" y1="502.91" x2="690.03" y2="512.28" stroke="#222" stroke-width="2"/>
<line x1="702.07" y1="502.91" x2="702.07" y2="512.28" stroke="#222" stroke-width="2"/>
<line x1="713.78" y1="502.91" x2="713.78" y2="512.28" stroke="#222" stroke-width="2"/>
<line x1="746.89" y1="502.91" x2="746.89" y2="512.28" stroke="#222" stroke-width="2"/>
<line x1="758.6" y1="502.91" x2="758.6" y2="512.28" stroke="#222" stroke-width="2"/>
<line x1="770.64" y1="502.91" x2="770.64" y2="512.28" stroke="#222" stroke-width="2"/>
<line x1="783.02" y1="502.91" x2="783.02" y2="512.28" stroke="#222" stroke-width="2"/>
<line x1="795.4" y1="502.91" x2="795.4" y2="512.28" stroke="#222" stroke-width="2"/>
<line x1="807.44" y1="502.91" x2="807.44" y2="512.28" stroke="#222" stroke-width="2"/>
<line x1="819.82" y1="502.91" x2="819.82" y2="512.28" stroke="#222" stroke-width="2"/>
<line x1="832.19" y1="502.91" x2="832.19" y2="512.28" stroke="#222" stroke-width="2" stroke-dasharray="2 1.8"/>
<line x1="845.91" y1="502.91" x2="845.91" y2="512.28" stroke="#222" stroke-width="2"/>
<line x1="858.96" y1="502.91" x2="858.96" y2="512.28" stroke="#222" stroke-width="2"/>
<line x1="872.34" y1="502.91" x2="872.34" y2="512.28" stroke="#222" stroke-width="2"/>
<text font-family="Liberation Serif, Liberation Mono, serif" font-size="16.96" text-anchor="middle" fill="#5566b0" x="626.89 639.1" y="529">CA</text>
<text font-family="Liberation Serif, Liberation Mono, serif" font-size="16.96" text-anchor="middle" fill="#5566b0" x="666.11 677.82 689.52 701.23 712.94" y="529">UCCUU</text>
<text font-family="Liberation Serif, Liberation Mono, serif" font-size="16.96" text-anchor="middle" fill="#5566b0" x="748.03 760.35 772.67 784.98 797.3 809.61 821.93 834.25 846.56 858.88 871.2" y="529">CGUCCUCGACU</text>
<text font-family="Liberation Serif, Liberation Mono, serif" font-size="16.96" text-anchor="middle" fill="#5566b0" x="614.2" y="539.71">C</text>
<text font-family="Liberation Serif, Liberation Mono, serif" font-size="17.98" text-anchor="middle" fill="#5566b0" letter-spacing="2" x="599.48" y="539.71">3′</text>
<text font-family="Liberation Serif, Liberation Mono, serif" font-size="16.96" text-anchor="middle" fill="#5566b0" x="652.89" y="539.71">G</text>
<text font-family="Liberation Serif, Liberation Mono, serif" font-size="16.96" text-anchor="middle" fill="#5566b0" x="887.84" y="539.71">A</text>
<text font-family="Liberation Serif, Liberation Mono, serif" font-size="17.98" text-anchor="middle" fill="#5566b0" letter-spacing="2" x="903.22" y="539.71">5′</text>
<text font-family="Liberation Serif, Liberation Mono, serif" font-size="16.96" text-anchor="middle" fill="#e04355" x="728.08 740.62" y="563.46">CU</text>
<text font-family="Liberation Serif, Liberation Mono, serif" font-size="16.96" text-anchor="middle" fill="#e04355" x="774.66" y="564.13">U</text>
<text font-family="Liberation Serif, Liberation Mono, serif" font-size="16.96" text-anchor="middle" fill="#e04355" x="801.75" y="562.45">A</text>
<text font-family="Liberation Serif, Liberation Mono, serif" font-size="16.96" text-anchor="middle" fill="#e04355" x="907.74" y="560.78">A</text>
<text font-family="Liberation Serif, Liberation Mono, serif" font-size="17.98" text-anchor="middle" fill="#e04355" letter-spacing="2" x="922.63" y="560.78">3′</text>
<text font-family="Liberation Serif, Liberation Mono, serif" font-size="17.98" text-anchor="middle" fill="#e04355" letter-spacing="2" x="603.39" y="572.49">5′</text>
<text font-family="Liberation Serif, Liberation Mono, serif" font-size="16.96" text-anchor="middle" fill="#e04355" x="620.57 633.53 646.5 659.46 672.42 685.38 698.35 711.31" y="572.49">UUGGUUUC</text>
<text font-family="Liberation Serif, Liberation Mono, serif" font-size="16.96" text-anchor="middle" fill="#e04355" x="762.62" y="572.49">G</text>
<text font-family="Liberation Serif, Liberation Mono, serif" font-size="16.96" text-anchor="middle" fill="#e04355" x="785.36" y="572.49">U</text>
<text font-family="Liberation Serif, Liberation Mono, serif" font-size="16.96" text-anchor="middle" fill="#e04355" x="813.27 824.94 836.61 848.27 859.94 871.6 883.27 894.94" y="572.49">CAUGAGGA</text>
<line x1="619.11" y1="578.84" x2="619.11" y2="589.21" stroke="#222" stroke-width="2"/>
<line x1="634.16" y1="578.84" x2="634.16" y2="589.21" stroke="#222" stroke-width="2" stroke-dasharray="2 1.8"/>
<line x1="646.54" y1="578.84" x2="646.54" y2="589.21" stroke="#222" stroke-width="2"/>
<line x1="659.25" y1="578.84" x2="659.25" y2="589.21" stroke="#222" stroke-width="2"/>
<line x1="672.63" y1="578.84" x2="672.63" y2="589.21" stroke="#222" stroke-width="2"/>
<line x1="686.68" y1="578.84" x2="686.68" y2="589.21" stroke="#222" stroke-width="2"/>
<line x1="699.39" y1="578.84" x2="699.39" y2="589.21" stroke="#222" stroke-width="2"/>
<line x1="712.77" y1="578.84" x2="712.77" y2="589.21" stroke="#222" stroke-width="2"/>
<line x1="761.95" y1="578.84" x2="761.95" y2="589.21" stroke="#222" stroke-width="2"/>
<line x1="786.37" y1="578.84" x2="786.37" y2="589.21" stroke="#222" stroke-width="2" stroke-dasharray="2 1.8"/>
<line x1="812.12" y1="578.84" x2="812.12" y2="589.21" stroke="#222" stroke-width="2"/>
<line x1="824.17" y1="578.84" x2="824.17" y2="589.21" stroke="#222" stroke-width="2"/>
<line x1="835.87" y1="578.84" x2="835.87" y2="589.21" stroke="#222" stroke-width="2"/>
<line x1="848.25" y1="578.84" x2="848.25" y2="589.21" stroke="#222" stroke-width="2"/>
<line x1="860.63" y1="578.84" x2="860.63" y2="589.21" stroke="#222" stroke-width="2"/>
<line x1="872.34" y1="578.84" x2="872.34" y2="589.21" stroke="#222" stroke-width="2"/>
<line x1="884.04" y1="578.84" x2="884.04" y2="589.21" stroke="#222" stroke-width="2"/>
<line x1="896.09" y1="578.84" x2="896.09" y2="589.21" stroke="#222" stroke-width="2"/>
<text font-family="Liberation Serif, Liberation Mono, serif" font-size="17.98" text-anchor="middle" fill="#5566b0" letter-spacing="2" x="604.22" y="605.27">3′</text>
<text font-family="Liberation Serif, Liberation Mono, serif" font-size="16.96" text-anchor="middle" fill="#5566b0" x="620.65 633.77 646.89 660.01 673.13 686.25 699.37 712.49 725.61" y="605.27">AGCCAGAGC</text>
<text font-family="Liberation Serif, Liberation Mono, serif" font-size="16.96" text-anchor="middle" fill="#5566b0" x="762.95" y="605.27">C</text>
<text font-family="Liberation Serif, Liberation Mono, serif" font-size="16.96" text-anchor="middle" fill="#5566b0" x="785.36" y="605.27">G</text>
<text font-family="Liberation Serif, Liberation Mono, serif" font-size="16.96" text-anchor="middle" fill="#5566b0" x="813.27 824.94 836.61 848.27 859.94 871.6 883.27 894.94" y="605.27">GUACUCCU</text>
<text font-family="Liberation Serif, Liberation Mono, serif" font-size="16.96" text-anchor="middle" fill="#5566b0" x="739.2" y="618.32">U</text>
<text font-family="Liberation Serif, Liberation Mono, serif" font-size="16.96" text-anchor="middle" fill="#5566b0" x="750.91" y="612.63">U</text>
<text font-family="Liberation Serif, Liberation Mono, serif" font-size="16.96" text-anchor="middle" fill="#5566b0" x="774.99" y="616.98">C</text>
<text font-family="Liberation Serif, Liberation Mono, serif" font-size="16.96" text-anchor="middle" fill="#5566b0" x="799.41" y="619.32">A</text>
<text font-family="Liberation Serif, Liberation Mono, serif" font-size="16.96" text-anchor="middle" fill="#5566b0" x="909.41" y="618.32">U</text>
<text font-family="Liberation Serif, Liberation Mono, serif" font-size="17.98" text-anchor="middle" fill="#5566b0" letter-spacing="2" x="924.3" y="618.32">5′</text>
<rect x="1102.2" y="352.3" width="1015.3" height="281.5" fill="none" stroke="#222" stroke-width="1.6"/>
<rect x="1325.94" y="456.07" width="4.56" height="105.93" fill="#dfe9f0"/>
<line x1="1325.94" y1="456.07" x2="1325.94" y2="562" stroke="#c6d2db" stroke-width="0.9"/>
<line x1="1330.5" y1="456.07" x2="1330.5" y2="562" stroke="#c6d2db" stroke-width="0.9"/>
<line x1="1205.81" y1="399.55" x2="1468.1" y2="399.55" stroke="#111" stroke-width="2"/>
<line x1="1205.81" y1="393.73" x2="1205.81" y2="405.38" stroke="#111" stroke-width="2"/>
<line x1="1468.1" y1="393.73" x2="1468.1" y2="405.38" stroke="#111" stroke-width="2"/>
<text font-size="23" text-anchor="middle" x="1324.41" y="388.91">200 bp</text>
<text font-size="23" x="1158.93" y="441.88">Ago2 LACE-seq</text>
<line x1="1148.79" y1="440.61" x2="1148.79" y2="553.63" stroke="#111" stroke-width="2.1"/>
<line x1="1143.22" y1="553.63" x2="1148.79" y2="553.63" stroke="#111" stroke-width="2.1"/>
<text font-size="23" text-anchor="end" x="1136.38" y="458.6">0</text>
<text font-size="23" text-anchor="end" x="1136.38" y="496.61">-4</text>
<text font-size="23" text-anchor="end" x="1136.38" y="521.2">0</text>
<text font-size="23" text-anchor="end" x="1136.38" y="557.18">-4</text>
<text font-size="23" x="1159.18" y="537.16">IgG LACE-seq</text>
<rect x="1290.96" y="452.77" width="30.41" height="27.12" fill="#1f2c66" shape-rendering="crispEdges"/>
<rect x="1300.34" y="452.77" width="21.03" height="30.92" fill="#1f2c66" shape-rendering="crispEdges"/>
<rect x="1302.87" y="452.77" width="16.47" height="35.48" fill="#1f2c66" shape-rendering="crispEdges"/>
<rect x="1305.91" y="452.77" width="13.43" height="41.81" fill="#1f2c66" shape-rendering="crispEdges"/>
<rect x="1356.09" y="452.77" width="21.54" height="25.34" fill="#1f2c66" shape-rendering="crispEdges"/>
<rect x="1406.02" y="452.77" width="30.41" height="14.45" fill="#1f2c66" shape-rendering="crispEdges"/>
<line x1="1142.46" y1="452.77" x2="1510.68" y2="452.77" stroke="#111" stroke-width="2"/>
<line x1="1142.46" y1="504.98" x2="1510.68" y2="504.98" stroke="#111" stroke-width="2.1"/>
<line x1="1139.92" y1="497.12" x2="1144.49" y2="502.19" stroke="#111" stroke-width="1.5"/>
<line x1="1139.92" y1="509.29" x2="1144.49" y2="506.24" stroke="#111" stroke-width="1.5"/>
<line x1="1148.79" y1="562.5" x2="1366.74" y2="562.5" stroke="#1f2c66" stroke-width="3.6"/>
<rect x="1366.74" y="558.45" width="85.15" height="7.6" fill="#1f2c66"/>
<line x1="1451.89" y1="562.5" x2="1508.14" y2="562.5" stroke="#111" stroke-width="1.6"/>
<polyline points="1309.97,582.78 1309.97,572.39 1347.22,572.39 1347.22,582.78" fill="none" stroke="#111" stroke-width="2.2"/>
<line x1="1328.22" y1="567.57" x2="1328.22" y2="572.39" stroke="#111" stroke-width="2.4"/>
<text font-size="23" x="1141.44" y="601.78">Endo-siRNA:</text>
<text font-size="23" text-anchor="middle" x="1305.91" y="601.78">22</text>
<text font-size="23" text-anchor="middle" x="1350.26" y="601.78">384</text>
<text font-size="26.3" x="1515.71" y="390.28">Ska1</text>
<text font-size="22.5" x="2034.21" y="401.91">MFE</text>
<text font-size="22.5" x="2085.12" y="401.91">:</text>
<text font-size="19.3" text-anchor="end" fill="#1f2a6e" x="1690.75" y="459.41">endo-siRNA-22</text>
<text font-size="19.3" text-anchor="end" fill="#1f2a6e" x="1690.75" y="577.25">endo-siRNA-384</text>
<text font-size="19.3" text-anchor="end" x="2109" y="455.64">-27.0 kcal/mol</text>
<text font-size="19.3" text-anchor="end" x="2109" y="571.91">-24.9 kcal/mol</text>
<text font-family="Liberation Serif, Liberation Mono, serif" font-size="16.09" text-anchor="middle" fill="#c2575a" x="1711.43" y="425.47">C</text>
<text font-family="Liberation Serif, Liberation Mono, serif" font-size="17.06" text-anchor="middle" fill="#c2575a" letter-spacing="2" x="1695.25" y="425.47">5′</text>
<text font-family="Liberation Serif, Liberation Mono, serif" font-size="16.09" text-anchor="middle" fill="#c2575a" x="1803.09" y="425.47">A</text>
<text font-family="Liberation Serif, Liberation Mono, serif" font-size="16.09" text-anchor="middle" fill="#c2575a" x="1984.09" y="425.47">U</text>
<text font-family="Liberation Serif, Liberation Mono, serif" font-size="17.06" text-anchor="middle" fill="#c2575a" letter-spacing="2" x="1998.7" y="425.47">3′</text>
<text font-family="Liberation Serif, Liberation Mono, serif" font-size="16.09" text-anchor="middle" fill="#c2575a" x="1721.38" y="438.36">A</text>
<text font-family="Liberation Serif, Liberation Mono, serif" font-size="16.09" text-anchor="middle" fill="#c2575a" x="1734.58 1746.84" y="439.93">GG</text>
<text font-family="Liberation Serif, Liberation Mono, serif" font-size="16.09" text-anchor="middle" fill="#c2575a" x="1773.55 1786.43" y="439.93">GU</text>
<text font-family="Liberation Serif, Liberation Mono, serif" font-size="16.09" text-anchor="middle" fill="#c2575a" x="1858.88 1871.48 1884.08 1896.68 1909.28 1921.89 1934.49 1947.09 1959.69 1972.29" y="439.93">UCGAGGGGGG</text>
<line x1="1720.91" y1="447.79" x2="1720.91" y2="457.84" stroke="#222" stroke-width="2"/>
<line x1="1734.11" y1="447.79" x2="1734.11" y2="457.84" stroke="#222" stroke-width="2"/>
<line x1="1747.62" y1="447.79" x2="1747.62" y2="457.84" stroke="#222" stroke-width="2"/>
<line x1="1772.45" y1="447.79" x2="1772.45" y2="457.84" stroke="#222" stroke-width="2"/>
<line x1="1786.59" y1="447.79" x2="1786.59" y2="457.84" stroke="#222" stroke-width="2"/>
<line x1="1858.24" y1="447.79" x2="1858.24" y2="457.84" stroke="#222" stroke-width="2"/>
<line x1="1873.01" y1="447.79" x2="1873.01" y2="457.84" stroke="#222" stroke-width="2"/>
<line x1="1886.52" y1="447.79" x2="1886.52" y2="457.84" stroke="#222" stroke-width="2"/>
<line x1="1899.09" y1="447.79" x2="1899.09" y2="457.84" stroke="#222" stroke-width="2"/>
<line x1="1912.29" y1="447.79" x2="1912.29" y2="457.84" stroke="#222" stroke-width="2"/>
<line x1="1924.86" y1="447.79" x2="1924.86" y2="457.84" stroke="#222" stroke-width="2"/>
<line x1="1936.8" y1="447.79" x2="1936.8" y2="457.84" stroke="#222" stroke-width="2"/>
<line x1="1949.37" y1="447.79" x2="1949.37" y2="457.84" stroke="#222" stroke-width="2"/>
<line x1="1960.99" y1="447.79" x2="1960.99" y2="457.84" stroke="#222" stroke-width="2" stroke-dasharray="2 1.8"/>
<line x1="1971.99" y1="447.79" x2="1971.99" y2="457.84" stroke="#222" stroke-width="2" stroke-dasharray="2 1.8"/>
<text font-family="Liberation Serif, Liberation Mono, serif" font-size="16.09" text-anchor="middle" fill="#5d6da8" x="1726.57 1737.13 1747.69" y="475.75">UCC</text>
<text font-family="Liberation Serif, Liberation Mono, serif" font-size="17.06" text-anchor="middle" fill="#5d6da8" letter-spacing="2" x="1710.73" y="475.75">3′</text>
<text font-family="Liberation Serif, Liberation Mono, serif" font-size="16.09" text-anchor="middle" fill="#5d6da8" x="1773.55 1786.43" y="475.75">CA</text>
<text font-family="Liberation Serif, Liberation Mono, serif" font-size="16.09" text-anchor="middle" fill="#5d6da8" x="1860.67 1873.08 1885.5 1897.91 1910.32 1922.73 1935.15 1947.56 1959.97 1972.38" y="475.75">AGCUCCCCUU</text>
<text font-family="Liberation Serif, Liberation Mono, serif" font-size="16.09" text-anchor="middle" fill="#5d6da8" x="1761.29" y="490.84">U</text>
<text font-family="Liberation Serif, Liberation Mono, serif" font-size="16.09" text-anchor="middle" fill="#5d6da8" x="1800.89" y="487.69">G</text>
<text font-family="Liberation Serif, Liberation Mono, serif" font-size="16.09" text-anchor="middle" fill="#5d6da8" x="1812.36" y="493.98">C</text>
<text font-family="Liberation Serif, Liberation Mono, serif" font-size="16.09" text-anchor="middle" fill="#5d6da8" x="1824.46" y="496.18">A</text>
<text font-family="Liberation Serif, Liberation Mono, serif" font-size="16.09" text-anchor="middle" fill="#5d6da8" x="1836.24" y="493.98">G</text>
<text font-family="Liberation Serif, Liberation Mono, serif" font-size="16.09" text-anchor="middle" fill="#5d6da8" x="1848.02" y="485.18">G</text>
<text font-family="Liberation Serif, Liberation Mono, serif" font-size="16.09" text-anchor="middle" fill="#5d6da8" x="1984.09" y="483.92">U</text>
<text font-family="Liberation Serif, Liberation Mono, serif" font-size="17.06" text-anchor="middle" fill="#5d6da8" letter-spacing="2" x="1998.7" y="483.92">5′</text>
<text font-family="Liberation Serif, Liberation Mono, serif" font-size="16.09" text-anchor="middle" fill="#c2575a" x="1730.55" y="535.46">A</text>
<text font-family="Liberation Serif, Liberation Mono, serif" font-size="17.06" text-anchor="middle" fill="#c2575a" letter-spacing="2" x="1715.15" y="535.46">5′</text>
<text font-family="Liberation Serif, Liberation Mono, serif" font-size="16.09" text-anchor="middle" fill="#c2575a" x="1791.77" y="539.54">A</text>
<text font-family="Liberation Serif, Liberation Mono, serif" font-size="16.09" text-anchor="middle" fill="#c2575a" x="1802.93" y="532.32">U</text>
<text font-family="Liberation Serif, Liberation Mono, serif" font-size="16.09" text-anchor="middle" fill="#c2575a" x="1815.03" y="539.54">C</text>
<text font-family="Liberation Serif, Liberation Mono, serif" font-size="16.09" text-anchor="middle" fill="#c2575a" x="1979.59" y="540.17">U</text>
<text font-family="Liberation Serif, Liberation Mono, serif" font-size="17.06" text-anchor="middle" fill="#c2575a" letter-spacing="2" x="1994.83" y="540.17">3′</text>
<text font-family="Liberation Serif, Liberation Mono, serif" font-size="16.09" text-anchor="middle" fill="#c2575a" x="1741.77 1753.95 1766.12 1778.3" y="560.91">GGGU</text>
<text font-family="Liberation Serif, Liberation Mono, serif" font-size="16.09" text-anchor="middle" fill="#c2575a" x="1824.99 1837.06 1849.12 1861.19 1873.26" y="560.91">GAGGG</text>
<text font-family="Liberation Serif, Liberation Mono, serif" font-size="16.09" text-anchor="middle" fill="#c2575a" x="1908.25 1920.3 1932.34 1944.39 1956.44 1968.48" y="560.91">GGGUCU</text>
<line x1="1740.71" y1="567.83" x2="1740.71" y2="576.62" stroke="#222" stroke-width="2"/>
<line x1="1753.91" y1="567.83" x2="1753.91" y2="576.62" stroke="#222" stroke-width="2"/>
<line x1="1766.79" y1="567.83" x2="1766.79" y2="576.62" stroke="#222" stroke-width="2"/>
<line x1="1779.36" y1="567.83" x2="1779.36" y2="576.62" stroke="#222" stroke-width="2"/>
<line x1="1824.3" y1="567.83" x2="1824.3" y2="576.62" stroke="#222" stroke-width="2"/>
<line x1="1836.24" y1="567.83" x2="1836.24" y2="576.62" stroke="#222" stroke-width="2"/>
<line x1="1848.18" y1="567.83" x2="1848.18" y2="576.62" stroke="#222" stroke-width="2" stroke-dasharray="2 1.8"/>
<line x1="1860.44" y1="567.83" x2="1860.44" y2="576.62" stroke="#222" stroke-width="2"/>
<line x1="1873.32" y1="567.83" x2="1873.32" y2="576.62" stroke="#222" stroke-width="2"/>
<line x1="1906.94" y1="567.83" x2="1906.94" y2="576.62" stroke="#222" stroke-width="2" stroke-dasharray="2 1.8"/>
<line x1="1919.51" y1="567.83" x2="1919.51" y2="576.62" stroke="#222" stroke-width="2"/>
<line x1="1932.71" y1="567.83" x2="1932.71" y2="576.62" stroke="#222" stroke-width="2"/>
<line x1="1944.65" y1="567.83" x2="1944.65" y2="576.62" stroke="#222" stroke-width="2"/>
<line x1="1957.22" y1="567.83" x2="1957.22" y2="576.62" stroke="#222" stroke-width="2"/>
<line x1="1969.16" y1="567.83" x2="1969.16" y2="576.62" stroke="#222" stroke-width="2"/>
<text font-family="Liberation Serif, Liberation Mono, serif" font-size="16.09" text-anchor="middle" fill="#5d6da8" x="1741.77 1753.95 1766.12 1778.3" y="595.48">CCCA</text>
<text font-family="Liberation Serif, Liberation Mono, serif" font-size="16.09" text-anchor="middle" fill="#5d6da8" x="1824.99 1837.06 1849.12 1861.19 1873.26" y="595.48">CUUCC</text>
<text font-family="Liberation Serif, Liberation Mono, serif" font-size="16.09" text-anchor="middle" fill="#5d6da8" x="1908.25 1920.3 1932.34 1944.39 1956.44 1968.48" y="595.48">UCCAGA</text>
<text font-family="Liberation Serif, Liberation Mono, serif" font-size="17.06" text-anchor="middle" fill="#5d6da8" letter-spacing="2" x="1989.43" y="595.48">5′</text>
<text font-family="Liberation Serif, Liberation Mono, serif" font-size="16.09" text-anchor="middle" fill="#5d6da8" x="1700.62 1711.98 1723.35 1734.71" y="608.68">AGUA</text>
<text font-family="Liberation Serif, Liberation Mono, serif" font-size="17.06" text-anchor="middle" fill="#5d6da8" letter-spacing="2" x="1683.57" y="608.68">3′</text>
<text font-family="Liberation Serif, Liberation Mono, serif" font-size="16.09" text-anchor="middle" fill="#5d6da8" x="1884.48 1897.36" y="608.68">AC</text>
<text font-size="46.5" fill="#000" font-weight="bold" x="4.6" y="722.5">b</text>
<rect x="151.35" y="684.76" width="10.2" height="10.2" fill="#6f6f6f"/>
<rect x="151.35" y="708.3" width="10.2" height="10.2" fill="#c8cbe0"/>
<rect x="151.35" y="737.31" width="10.2" height="10.2" fill="#c4626d"/>
<text font-size="22.7" x="168.87" y="695.16">3’ UTR+Ctrl</text>
<text font-size="22.7" x="168.87" y="721.71">3’ UTR+mimic</text>
<text font-size="22.7" x="168.87" y="747.71">Seed mutation+mimic</text>
<rect x="158.78" y="905.08" width="25.1" height="221.32" fill="#6f6f6f"/>
<rect x="199.02" y="975.15" width="25.1" height="151.25" fill="#c8cbe0"/>
<rect x="239.8" y="907.27" width="25.1" height="219.13" fill="#c4626d"/>
<rect x="280.58" y="975.15" width="25.1" height="151.25" fill="#c8cbe0"/>
<rect x="321.08" y="910.56" width="25.1" height="215.84" fill="#c4626d"/>
<rect x="361.59" y="981.17" width="25.1" height="145.23" fill="#c8cbe0"/>
<rect x="402.37" y="874.43" width="25.1" height="251.97" fill="#c4626d"/>
<rect x="442.88" y="967.49" width="25.1" height="158.91" fill="#c8cbe0"/>
<rect x="483.66" y="913.29" width="25.1" height="213.11" fill="#c4626d"/>
<rect x="524.13" y="892.77" width="25.1" height="233.63" fill="#c8cbe0"/>
<rect x="564.63" y="957.09" width="25.1" height="169.31" fill="#c8cbe0"/>
<rect x="605.14" y="900.98" width="25.1" height="225.42" fill="#c4626d"/>
<rect x="645.65" y="962.01" width="25.1" height="164.39" fill="#c8cbe0"/>
<rect x="686.15" y="888.94" width="25.1" height="237.46" fill="#c4626d"/>
<rect x="726.66" y="984.46" width="25.1" height="141.94" fill="#c8cbe0"/>
<rect x="767.17" y="909.19" width="25.1" height="217.21" fill="#c4626d"/>
<rect x="807.95" y="868.96" width="25.1" height="257.44" fill="#c8cbe0"/>
<rect x="848.45" y="993.49" width="25.1" height="132.91" fill="#c8cbe0"/>
<rect x="889.23" y="892.77" width="25.1" height="233.63" fill="#c4626d"/>
<rect x="929.74" y="988.01" width="25.1" height="138.39" fill="#c8cbe0"/>
<rect x="970.25" y="884.56" width="25.1" height="241.84" fill="#c4626d"/>
<line x1="211.57" y1="970.77" x2="211.57" y2="978.43" stroke="#000" stroke-width="2.2"/>
<line x1="207.97" y1="970.77" x2="215.17" y2="970.77" stroke="#000" stroke-width="2.2"/>
<line x1="207.97" y1="978.43" x2="215.17" y2="978.43" stroke="#000" stroke-width="2.2"/>
<circle cx="212.11" cy="968.85" r="4" fill="#000"/>
<circle cx="206.64" cy="979.8" r="4" fill="#000"/>
<circle cx="217.59" cy="975.7" r="4" fill="#000"/>
<text font-size="22.7" transform="translate(219.77 956.54) rotate(-90) scale(1 1.13)"><tspan font-style="italic">P</tspan> = 0.0002</text>
<circle cx="244.41" cy="906.45" r="4" fill="#000"/>
<circle cx="252.35" cy="907.27" r="4" fill="#000"/>
<circle cx="260.83" cy="907.27" r="4" fill="#000"/>
<text font-size="22.7" transform="translate(260.55 888.94) rotate(-90) scale(1 1.13)"><tspan font-style="italic">P</tspan> &lt; 0.0001</text>
<line x1="293.13" y1="968.85" x2="293.13" y2="981.17" stroke="#000" stroke-width="2.2"/>
<line x1="289.53" y1="968.85" x2="296.73" y2="968.85" stroke="#000" stroke-width="2.2"/>
<line x1="289.53" y1="981.17" x2="296.73" y2="981.17" stroke="#000" stroke-width="2.2"/>
<circle cx="287.38" cy="966.66" r="4" fill="#000"/>
<circle cx="298.33" cy="972.96" r="4" fill="#000"/>
<circle cx="293.13" cy="983.91" r="4" fill="#000"/>
<text font-size="22.7" transform="translate(301.33 951.06) rotate(-90) scale(1 1.13)"><tspan font-style="italic">P</tspan> = 0.0004</text>
<line x1="333.63" y1="901.8" x2="333.63" y2="918.22" stroke="#000" stroke-width="2.2"/>
<line x1="330.03" y1="901.8" x2="337.23" y2="901.8" stroke="#000" stroke-width="2.2"/>
<line x1="330.03" y1="918.22" x2="337.23" y2="918.22" stroke="#000" stroke-width="2.2"/>
<circle cx="328.43" cy="897.69" r="4" fill="#000"/>
<circle cx="339.38" cy="907.82" r="4" fill="#000"/>
<circle cx="333.63" cy="924.52" r="4" fill="#000"/>
<text font-size="22.7" transform="translate(341.83 882.64) rotate(-90) scale(1 1.13)"><tspan font-style="italic">P</tspan> = 0.0024</text>
<line x1="374.14" y1="968.85" x2="374.14" y2="992.67" stroke="#000" stroke-width="2.2"/>
<line x1="370.54" y1="968.85" x2="377.74" y2="968.85" stroke="#000" stroke-width="2.2"/>
<line x1="370.54" y1="992.67" x2="377.74" y2="992.67" stroke="#000" stroke-width="2.2"/>
<circle cx="368.94" cy="968.85" r="4" fill="#000"/>
<circle cx="379.89" cy="974.88" r="4" fill="#000"/>
<circle cx="374.41" cy="997.05" r="4" fill="#000"/>
<text font-size="22.7" transform="translate(382.34 955.17) rotate(-90) scale(1 1.13)"><tspan font-style="italic">P</tspan> = 0.0013</text>
<line x1="414.92" y1="858.56" x2="414.92" y2="888.11" stroke="#000" stroke-width="2.2"/>
<line x1="411.32" y1="858.56" x2="418.52" y2="858.56" stroke="#000" stroke-width="2.2"/>
<line x1="411.32" y1="888.11" x2="418.52" y2="888.11" stroke="#000" stroke-width="2.2"/>
<circle cx="414.92" cy="845.14" r="4" fill="#000"/>
<circle cx="414.92" cy="878.54" r="4" fill="#000"/>
<circle cx="414.92" cy="894.96" r="4" fill="#000"/>
<text font-size="22.7" transform="translate(423.12 830.64) rotate(-90) scale(1 1.13)"><tspan font-style="italic">P</tspan> = 0.0033</text>
<line x1="455.43" y1="959.28" x2="455.43" y2="974.33" stroke="#000" stroke-width="2.2"/>
<line x1="451.83" y1="959.28" x2="459.03" y2="959.28" stroke="#000" stroke-width="2.2"/>
<line x1="451.83" y1="974.33" x2="459.03" y2="974.33" stroke="#000" stroke-width="2.2"/>
<circle cx="450.23" cy="954.62" r="4" fill="#000"/>
<circle cx="461.18" cy="965.57" r="4" fill="#000"/>
<circle cx="455.43" cy="979.8" r="4" fill="#000"/>
<text font-size="22.7" transform="translate(463.63 943.4) rotate(-90) scale(1 1.13)"><tspan font-style="italic">P</tspan> = 0.0017</text>
<line x1="496.21" y1="901.25" x2="496.21" y2="923.69" stroke="#000" stroke-width="2.2"/>
<line x1="492.61" y1="901.25" x2="499.81" y2="901.25" stroke="#000" stroke-width="2.2"/>
<line x1="492.61" y1="923.69" x2="499.81" y2="923.69" stroke="#000" stroke-width="2.2"/>
<circle cx="496.21" cy="892.77" r="4" fill="#000"/>
<circle cx="496.21" cy="914.66" r="4" fill="#000"/>
<circle cx="496.21" cy="930.54" r="4" fill="#000"/>
<text font-size="22.7" transform="translate(504.41 875.8) rotate(-90) scale(1 1.13)"><tspan font-style="italic">P</tspan> = 0.0148</text>
<line x1="536.68" y1="855.27" x2="536.68" y2="929.72" stroke="#000" stroke-width="2.2"/>
<line x1="533.08" y1="855.27" x2="540.28" y2="855.27" stroke="#000" stroke-width="2.2"/>
<line x1="533.08" y1="929.72" x2="540.28" y2="929.72" stroke="#000" stroke-width="2.2"/>
<circle cx="536.95" cy="825.16" r="4" fill="#000"/>
<circle cx="536.95" cy="898.51" r="4" fill="#000"/>
<circle cx="536.95" cy="952.98" r="4" fill="#000"/>
<text font-size="22.7" transform="translate(544.88 808.74) rotate(-90) scale(1 1.13)"><tspan font-style="italic">P</tspan> = 0.7658</text>
<line x1="577.18" y1="944.22" x2="577.18" y2="968.85" stroke="#000" stroke-width="2.2"/>
<line x1="573.58" y1="944.22" x2="580.78" y2="944.22" stroke="#000" stroke-width="2.2"/>
<line x1="573.58" y1="968.85" x2="580.78" y2="968.85" stroke="#000" stroke-width="2.2"/>
<circle cx="577.18" cy="931.91" r="4" fill="#000"/>
<circle cx="571.71" cy="969.68" r="4" fill="#000"/>
<circle cx="582.93" cy="966.66" r="4" fill="#000"/>
<text font-size="22.7" transform="translate(585.38 917.67) rotate(-90) scale(1 1.13)"><tspan font-style="italic">P</tspan> = 0.0149</text>
<line x1="617.69" y1="885.38" x2="617.69" y2="914.12" stroke="#000" stroke-width="2.2"/>
<line x1="614.09" y1="885.38" x2="621.29" y2="885.38" stroke="#000" stroke-width="2.2"/>
<line x1="614.09" y1="914.12" x2="621.29" y2="914.12" stroke="#000" stroke-width="2.2"/>
<circle cx="617.69" cy="877.17" r="4" fill="#000"/>
<circle cx="617.69" cy="898.24" r="4" fill="#000"/>
<circle cx="617.69" cy="924.52" r="4" fill="#000"/>
<text font-size="22.7" transform="translate(625.89 862.93) rotate(-90) scale(1 1.13)"><tspan font-style="italic">P</tspan> = 0.0369</text>
<line x1="658.2" y1="945.59" x2="658.2" y2="977.07" stroke="#000" stroke-width="2.2"/>
<line x1="654.6" y1="945.59" x2="661.8" y2="945.59" stroke="#000" stroke-width="2.2"/>
<line x1="654.6" y1="977.07" x2="661.8" y2="977.07" stroke="#000" stroke-width="2.2"/>
<circle cx="658.2" cy="936.83" r="4" fill="#000"/>
<circle cx="658.2" cy="957.36" r="4" fill="#000"/>
<circle cx="658.2" cy="990.75" r="4" fill="#000"/>
<text font-size="22.7" transform="translate(666.4 923.69) rotate(-90) scale(1 1.13)"><tspan font-style="italic">P</tspan> = 0.0239</text>
<line x1="698.7" y1="877.17" x2="698.7" y2="897.69" stroke="#000" stroke-width="2.2"/>
<line x1="695.1" y1="877.17" x2="702.3" y2="877.17" stroke="#000" stroke-width="2.2"/>
<line x1="695.1" y1="897.69" x2="702.3" y2="897.69" stroke="#000" stroke-width="2.2"/>
<circle cx="699.25" cy="867.59" r="4" fill="#000"/>
<circle cx="693.23" cy="900.43" r="4" fill="#000"/>
<circle cx="704.45" cy="896.33" r="4" fill="#000"/>
<text font-size="22.7" transform="translate(706.9 853.08) rotate(-90) scale(1 1.13)"><tspan font-style="italic">P</tspan> = 0.0171</text>
<line x1="739.21" y1="979.8" x2="739.21" y2="990.75" stroke="#000" stroke-width="2.2"/>
<line x1="735.61" y1="979.8" x2="742.81" y2="979.8" stroke="#000" stroke-width="2.2"/>
<line x1="735.61" y1="990.75" x2="742.81" y2="990.75" stroke="#000" stroke-width="2.2"/>
<circle cx="734.56" cy="979.8" r="4" fill="#000"/>
<circle cx="744.96" cy="980.35" r="4" fill="#000"/>
<circle cx="739.48" cy="992.67" r="4" fill="#000"/>
<text font-size="22.7" transform="translate(747.41 966.66) rotate(-90) scale(1 1.13)"><tspan font-style="italic">P</tspan> = 0.0002</text>
<line x1="779.72" y1="903.17" x2="779.72" y2="914.12" stroke="#000" stroke-width="2.2"/>
<line x1="776.12" y1="903.17" x2="783.32" y2="903.17" stroke="#000" stroke-width="2.2"/>
<line x1="776.12" y1="914.12" x2="783.32" y2="914.12" stroke="#000" stroke-width="2.2"/>
<circle cx="774.52" cy="898.51" r="4" fill="#000"/>
<circle cx="785.46" cy="906.45" r="4" fill="#000"/>
<circle cx="779.72" cy="920.96" r="4" fill="#000"/>
<text font-size="22.7" transform="translate(787.92 888.11) rotate(-90) scale(1 1.13)"><tspan font-style="italic">P</tspan> = 0.0006</text>
<line x1="820.5" y1="827.9" x2="820.5" y2="908.64" stroke="#000" stroke-width="2.2"/>
<line x1="816.9" y1="827.9" x2="824.1" y2="827.9" stroke="#000" stroke-width="2.2"/>
<line x1="816.9" y1="908.64" x2="824.1" y2="908.64" stroke="#000" stroke-width="2.2"/>
<circle cx="820.5" cy="788.76" r="4" fill="#000"/>
<circle cx="820.5" cy="901.25" r="4" fill="#000"/>
<circle cx="820.5" cy="914.94" r="4" fill="#000"/>
<text font-size="22.7" transform="translate(828.7 776.45) rotate(-90) scale(1 1.13)"><tspan font-style="italic">P</tspan> = 0.4219</text>
<line x1="861" y1="989.38" x2="861" y2="997.05" stroke="#000" stroke-width="2.2"/>
<line x1="857.4" y1="989.38" x2="864.6" y2="989.38" stroke="#000" stroke-width="2.2"/>
<line x1="857.4" y1="997.05" x2="864.6" y2="997.05" stroke="#000" stroke-width="2.2"/>
<circle cx="861.28" cy="986.64" r="4" fill="#000"/>
<circle cx="866.75" cy="990.75" r="4" fill="#000"/>
<circle cx="855.53" cy="1000.33" r="4" fill="#000"/>
<text font-size="22.7" transform="translate(869.2 973.78) rotate(-90) scale(1 1.13)"><tspan font-style="italic">P</tspan> &lt; 0.0001</text>
<line x1="901.78" y1="884.01" x2="901.78" y2="903.17" stroke="#000" stroke-width="2.2"/>
<line x1="898.18" y1="884.01" x2="905.38" y2="884.01" stroke="#000" stroke-width="2.2"/>
<line x1="898.18" y1="903.17" x2="905.38" y2="903.17" stroke="#000" stroke-width="2.2"/>
<circle cx="901.78" cy="875.8" r="4" fill="#000"/>
<circle cx="896.04" cy="903.99" r="4" fill="#000"/>
<circle cx="907.26" cy="897.69" r="4" fill="#000"/>
<text font-size="22.7" transform="translate(909.98 859.38) rotate(-90) scale(1 1.13)"><tspan font-style="italic">P</tspan> = 0.0004</text>
<line x1="942.29" y1="981.17" x2="942.29" y2="992.12" stroke="#000" stroke-width="2.2"/>
<line x1="938.69" y1="981.17" x2="945.89" y2="981.17" stroke="#000" stroke-width="2.2"/>
<line x1="938.69" y1="992.12" x2="945.89" y2="992.12" stroke="#000" stroke-width="2.2"/>
<circle cx="937.09" cy="977.07" r="4" fill="#000"/>
<circle cx="947.76" cy="985.28" r="4" fill="#000"/>
<circle cx="942.56" cy="997.59" r="4" fill="#000"/>
<text font-size="22.7" transform="translate(950.49 962.56) rotate(-90) scale(1 1.13)"><tspan font-style="italic">P</tspan> = 0.0002</text>
<line x1="982.8" y1="877.17" x2="982.8" y2="890.85" stroke="#000" stroke-width="2.2"/>
<line x1="979.2" y1="877.17" x2="986.4" y2="877.17" stroke="#000" stroke-width="2.2"/>
<line x1="979.2" y1="890.85" x2="986.4" y2="890.85" stroke="#000" stroke-width="2.2"/>
<circle cx="983.07" cy="871.15" r="4" fill="#000"/>
<circle cx="977.6" cy="892.22" r="4" fill="#000"/>
<circle cx="988.55" cy="887.57" r="4" fill="#000"/>
<text font-size="22.7" transform="translate(991 856.64) rotate(-90) scale(1 1.13)"><tspan font-style="italic">P</tspan> = 0.0003</text>
<line x1="144.4" y1="760.8" x2="144.4" y2="1127.5" stroke="#111" stroke-width="2.2"/>
<text font-size="25.3" text-anchor="end" x="129.6" y="1135.76">0</text>
<line x1="134.7" y1="1082.87" x2="144.4" y2="1082.87" stroke="#111" stroke-width="2.2"/>
<text font-size="25.3" text-anchor="end" x="129.6" y="1091.93">0.2</text>
<line x1="134.7" y1="1038.34" x2="144.4" y2="1038.34" stroke="#111" stroke-width="2.2"/>
<text font-size="25.3" text-anchor="end" x="129.6" y="1047.4">0.4</text>
<line x1="134.7" y1="993.81" x2="144.4" y2="993.81" stroke="#111" stroke-width="2.2"/>
<text font-size="25.3" text-anchor="end" x="129.6" y="1002.87">0.6</text>
<line x1="134.7" y1="949.28" x2="144.4" y2="949.28" stroke="#111" stroke-width="2.2"/>
<text font-size="25.3" text-anchor="end" x="129.6" y="958.34">0.8</text>
<line x1="134.7" y1="904.75" x2="144.4" y2="904.75" stroke="#111" stroke-width="2.2"/>
<text font-size="25.3" text-anchor="end" x="129.6" y="913.81">1.0</text>
<line x1="134.7" y1="860.22" x2="144.4" y2="860.22" stroke="#111" stroke-width="2.2"/>
<text font-size="25.3" text-anchor="end" x="129.6" y="869.28">1.2</text>
<line x1="134.7" y1="815.69" x2="144.4" y2="815.69" stroke="#111" stroke-width="2.2"/>
<text font-size="25.3" text-anchor="end" x="129.6" y="824.75">1.4</text>
<line x1="134.7" y1="771.16" x2="144.4" y2="771.16" stroke="#111" stroke-width="2.2"/>
<text font-size="25.3" text-anchor="end" x="129.6" y="780.22">1.6</text>
<line x1="134.7" y1="1126.4" x2="1015.9" y2="1126.4" stroke="#111" stroke-width="2.4"/>
<text font-size="26.65" text-anchor="middle" transform="translate(45.8 938.3) rotate(-90)">Relative luciferase activity</text>
<text font-size="26.65" text-anchor="middle" transform="translate(78.5 931) rotate(-90)">(RL/FL)</text>
<line x1="197.6" y1="1132.5" x2="269" y2="1132.5" stroke="#111" stroke-width="1.8"/>
<line x1="277.8" y1="1132.5" x2="349.5" y2="1132.5" stroke="#111" stroke-width="1.8"/>
<line x1="357" y1="1132.5" x2="428.3" y2="1132.5" stroke="#111" stroke-width="1.8"/>
<line x1="439.8" y1="1132.5" x2="511.8" y2="1132.5" stroke="#111" stroke-width="1.8"/>
<line x1="561.6" y1="1132.5" x2="632.7" y2="1132.5" stroke="#111" stroke-width="1.8"/>
<line x1="644.2" y1="1132.5" x2="714.3" y2="1132.5" stroke="#111" stroke-width="1.8"/>
<line x1="723" y1="1132.5" x2="793.4" y2="1132.5" stroke="#111" stroke-width="1.8"/>
<line x1="845.4" y1="1132.5" x2="915.2" y2="1132.5" stroke="#111" stroke-width="1.8"/>
<line x1="926.4" y1="1132.5" x2="996.7" y2="1132.5" stroke="#111" stroke-width="1.8"/>
<line x1="199" y1="1203" x2="505" y2="1203" stroke="#111" stroke-width="1.8"/>
<line x1="515.6" y1="1203" x2="794.7" y2="1203" stroke="#111" stroke-width="1.8"/>
<line x1="804.3" y1="1203" x2="997.3" y2="1203" stroke="#111" stroke-width="1.8"/>
<text font-size="27.2" text-anchor="middle" x="350" y="1238.2">Bub3</text>
<text font-size="27.2" text-anchor="middle" x="668.2" y="1238.2">Chk1</text>
<text font-size="27.2" text-anchor="middle" x="911.9" y="1238.2">Nuf2</text>
<text font-size="26.2" text-anchor="end" transform="translate(181.8 1152.5) rotate(-45)">Ctrl</text>
<text font-size="26.2" text-anchor="end" transform="translate(249.9 1152) rotate(-45)">607</text>
<text font-size="26.2" text-anchor="end" transform="translate(332.8 1152.5) rotate(-45)">1030</text>
<text font-size="26.2" text-anchor="end" transform="translate(415 1152) rotate(-45)">2837</text>
<text font-size="26.2" text-anchor="end" transform="translate(493.5 1152.5) rotate(-45)">3100</text>
<text font-size="26.2" text-anchor="end" transform="translate(551.8 1152.7) rotate(-45)">1176</text>
<text font-size="26.2" text-anchor="end" transform="translate(606.5 1152.5) rotate(-45)">1</text>
<text font-size="26.2" text-anchor="end" transform="translate(692.2 1152.5) rotate(-45)">1976</text>
<text font-size="26.2" text-anchor="end" transform="translate(774.8 1152.5) rotate(-45)">2932</text>
<text font-size="26.2" text-anchor="end" transform="translate(841 1152.5) rotate(-45)">2188</text>
<text font-size="26.2" text-anchor="end" transform="translate(897.5 1152.5) rotate(-45)">1603</text>
<text font-size="26.2" text-anchor="end" transform="translate(982.8 1152.5) rotate(-45)">3492</text>
<text font-size="41.5" fill="#000" font-weight="bold" x="1055.5" y="722.5">c</text>
<rect x="1213.29" y="909.74" width="25.1" height="214.36" fill="#6f6f6f"/>
<rect x="1253.25" y="952.43" width="25.1" height="171.67" fill="#b9bdd6"/>
<rect x="1293.48" y="930.54" width="25.1" height="193.56" fill="#c4626d"/>
<rect x="1333.17" y="970.22" width="25.1" height="153.88" fill="#b9bdd6"/>
<rect x="1373.4" y="817.5" width="25.1" height="306.6" fill="#c4626d"/>
<rect x="1413.36" y="958.73" width="25.1" height="165.37" fill="#b9bdd6"/>
<rect x="1453.32" y="888.11" width="25.1" height="235.99" fill="#c4626d"/>
<rect x="1493.55" y="893.04" width="25.1" height="231.06" fill="#b9bdd6"/>
<rect x="1533.51" y="940.12" width="25.1" height="183.98" fill="#b9bdd6"/>
<rect x="1573.2" y="791.5" width="25.1" height="332.6" fill="#c4626d"/>
<rect x="1613.43" y="977.07" width="25.1" height="147.03" fill="#b9bdd6"/>
<rect x="1653.39" y="848.98" width="25.1" height="275.12" fill="#c4626d"/>
<rect x="1693.35" y="870.32" width="25.1" height="253.78" fill="#b9bdd6"/>
<rect x="1733.31" y="968.03" width="25.1" height="156.07" fill="#b9bdd6"/>
<rect x="1773.27" y="862.66" width="25.1" height="261.44" fill="#c4626d"/>
<rect x="1814.87" y="1010.18" width="25.1" height="113.92" fill="#b9bdd6"/>
<rect x="1853.19" y="926.98" width="25.1" height="197.12" fill="#c4626d"/>
<rect x="1893.15" y="897.69" width="25.1" height="226.41" fill="#b9bdd6"/>
<rect x="1933.38" y="938.75" width="25.1" height="185.35" fill="#b9bdd6"/>
<rect x="1973.34" y="834.2" width="25.1" height="289.9" fill="#c4626d"/>
<rect x="2013.3" y="997.59" width="25.1" height="126.51" fill="#b9bdd6"/>
<rect x="2053.26" y="926.98" width="25.1" height="197.12" fill="#c4626d"/>
<line x1="1265.8" y1="946.96" x2="1265.8" y2="955.17" stroke="#000" stroke-width="2.2"/>
<line x1="1262.2" y1="946.96" x2="1269.4" y2="946.96" stroke="#000" stroke-width="2.2"/>
<line x1="1262.2" y1="955.17" x2="1269.4" y2="955.17" stroke="#000" stroke-width="2.2"/>
<circle cx="1265.8" cy="944.22" r="4" fill="#000"/>
<circle cx="1260.32" cy="956.54" r="4" fill="#000"/>
<circle cx="1271.82" cy="952.43" r="4" fill="#000"/>
<text font-size="22.7" transform="translate(1274 931.91) rotate(-90) scale(1 1.13)"><tspan font-style="italic">P</tspan> = 0.0017</text>
<line x1="1306.03" y1="926.98" x2="1306.03" y2="934.64" stroke="#000" stroke-width="2.2"/>
<line x1="1302.43" y1="926.98" x2="1309.63" y2="926.98" stroke="#000" stroke-width="2.2"/>
<line x1="1302.43" y1="934.64" x2="1309.63" y2="934.64" stroke="#000" stroke-width="2.2"/>
<circle cx="1297.27" cy="926.43" r="4" fill="#000"/>
<circle cx="1314.52" cy="927.8" r="4" fill="#000"/>
<circle cx="1306.03" cy="936.01" r="4" fill="#000"/>
<text font-size="22.7" transform="translate(1314.23 910.01) rotate(-90) scale(1 1.13)"><tspan font-style="italic">P</tspan> = 0.0139</text>
<line x1="1345.72" y1="964.75" x2="1345.72" y2="974.33" stroke="#000" stroke-width="2.2"/>
<line x1="1342.12" y1="964.75" x2="1349.32" y2="964.75" stroke="#000" stroke-width="2.2"/>
<line x1="1342.12" y1="974.33" x2="1349.32" y2="974.33" stroke="#000" stroke-width="2.2"/>
<circle cx="1345.99" cy="961.19" r="4" fill="#000"/>
<circle cx="1340.24" cy="974.88" r="4" fill="#000"/>
<circle cx="1351.46" cy="971.59" r="4" fill="#000"/>
<text font-size="22.7" transform="translate(1353.92 947.51) rotate(-90) scale(1 1.13)"><tspan font-style="italic">P</tspan> = 0.0114</text>
<line x1="1385.95" y1="812.85" x2="1385.95" y2="821.06" stroke="#000" stroke-width="2.2"/>
<line x1="1382.35" y1="812.85" x2="1389.55" y2="812.85" stroke="#000" stroke-width="2.2"/>
<line x1="1382.35" y1="821.06" x2="1389.55" y2="821.06" stroke="#000" stroke-width="2.2"/>
<circle cx="1385.95" cy="809.29" r="4" fill="#000"/>
<circle cx="1380.2" cy="821.61" r="4" fill="#000"/>
<circle cx="1391.7" cy="818.87" r="4" fill="#000"/>
<text font-size="22.7" transform="translate(1394.15 796.43) rotate(-90) scale(1 1.13)"><tspan font-style="italic">P</tspan> &lt; 0.0001</text>
<circle cx="1417.7" cy="954.62" r="4" fill="#000"/>
<circle cx="1425.91" cy="958.73" r="4" fill="#000"/>
<circle cx="1434.39" cy="958.45" r="4" fill="#000"/>
<text font-size="22.7" transform="translate(1434.11 940.66) rotate(-90) scale(1 1.13)"><tspan font-style="italic">P</tspan> = 0.0313</text>
<line x1="1465.87" y1="873.88" x2="1465.87" y2="900.98" stroke="#000" stroke-width="2.2"/>
<line x1="1462.27" y1="873.88" x2="1469.47" y2="873.88" stroke="#000" stroke-width="2.2"/>
<line x1="1462.27" y1="900.98" x2="1469.47" y2="900.98" stroke="#000" stroke-width="2.2"/>
<circle cx="1460.67" cy="869.78" r="4" fill="#000"/>
<circle cx="1471.89" cy="876.35" r="4" fill="#000"/>
<circle cx="1465.87" cy="914.66" r="4" fill="#000"/>
<text font-size="22.7" transform="translate(1474.07 856.64) rotate(-90) scale(1 1.13)"><tspan font-style="italic">P</tspan> = 0.0073</text>
<line x1="1506.1" y1="876.62" x2="1506.1" y2="908.64" stroke="#000" stroke-width="2.2"/>
<line x1="1502.5" y1="876.62" x2="1509.7" y2="876.62" stroke="#000" stroke-width="2.2"/>
<line x1="1502.5" y1="908.64" x2="1509.7" y2="908.64" stroke="#000" stroke-width="2.2"/>
<circle cx="1506.1" cy="866.22" r="4" fill="#000"/>
<circle cx="1506.1" cy="890.3" r="4" fill="#000"/>
<circle cx="1506.1" cy="921.78" r="4" fill="#000"/>
<text font-size="22.7" transform="translate(1514.3 852.53) rotate(-90) scale(1 1.13)"><tspan font-style="italic">P</tspan> = 0.3973</text>
<line x1="1546.06" y1="936.01" x2="1546.06" y2="944.22" stroke="#000" stroke-width="2.2"/>
<line x1="1542.46" y1="936.01" x2="1549.66" y2="936.01" stroke="#000" stroke-width="2.2"/>
<line x1="1542.46" y1="944.22" x2="1549.66" y2="944.22" stroke="#000" stroke-width="2.2"/>
<circle cx="1546.06" cy="932.73" r="4" fill="#000"/>
<circle cx="1540.31" cy="945.04" r="4" fill="#000"/>
<circle cx="1551.54" cy="939.57" r="4" fill="#000"/>
<text font-size="22.7" transform="translate(1554.26 920.41) rotate(-90) scale(1 1.13)"><tspan font-style="italic">P</tspan> = 0.0100</text>
<line x1="1585.75" y1="773.16" x2="1585.75" y2="808.2" stroke="#000" stroke-width="2.2"/>
<line x1="1582.15" y1="773.16" x2="1589.35" y2="773.16" stroke="#000" stroke-width="2.2"/>
<line x1="1582.15" y1="808.2" x2="1589.35" y2="808.2" stroke="#000" stroke-width="2.2"/>
<circle cx="1580.27" cy="770.43" r="4" fill="#000"/>
<circle cx="1590.95" cy="774.53" r="4" fill="#000"/>
<circle cx="1586.02" cy="826.53" r="4" fill="#000"/>
<text font-size="22.7" transform="translate(1593.95 763.58) rotate(-90) scale(1 1.13)"><tspan font-style="italic">P</tspan> = 0.0012</text>
<line x1="1625.98" y1="968.85" x2="1625.98" y2="984.46" stroke="#000" stroke-width="2.2"/>
<line x1="1622.38" y1="968.85" x2="1629.58" y2="968.85" stroke="#000" stroke-width="2.2"/>
<line x1="1622.38" y1="984.46" x2="1629.58" y2="984.46" stroke="#000" stroke-width="2.2"/>
<circle cx="1625.98" cy="962.01" r="4" fill="#000"/>
<circle cx="1631.45" cy="977.89" r="4" fill="#000"/>
<circle cx="1620.23" cy="989.38" r="4" fill="#000"/>
<text font-size="22.7" transform="translate(1634.18 951.06) rotate(-90) scale(1 1.13)"><tspan font-style="italic">P</tspan> = 0.0021</text>
<line x1="1665.94" y1="845.69" x2="1665.94" y2="851.17" stroke="#000" stroke-width="2.2"/>
<line x1="1662.34" y1="845.69" x2="1669.54" y2="845.69" stroke="#000" stroke-width="2.2"/>
<line x1="1662.34" y1="851.17" x2="1669.54" y2="851.17" stroke="#000" stroke-width="2.2"/>
<circle cx="1657.46" cy="843.5" r="4" fill="#000"/>
<circle cx="1665.94" cy="851.17" r="4" fill="#000"/>
<circle cx="1674.42" cy="850.34" r="4" fill="#000"/>
<text font-size="22.7" transform="translate(1674.14 832.01) rotate(-90) scale(1 1.13)"><tspan font-style="italic">P</tspan> &lt; 0.0001</text>
<line x1="1705.9" y1="858.56" x2="1705.9" y2="882.64" stroke="#000" stroke-width="2.2"/>
<line x1="1702.3" y1="858.56" x2="1709.5" y2="858.56" stroke="#000" stroke-width="2.2"/>
<line x1="1702.3" y1="882.64" x2="1709.5" y2="882.64" stroke="#000" stroke-width="2.2"/>
<circle cx="1705.9" cy="849.8" r="4" fill="#000"/>
<circle cx="1705.9" cy="874.43" r="4" fill="#000"/>
<circle cx="1705.9" cy="885.92" r="4" fill="#000"/>
<text font-size="22.7" transform="translate(1714.1 838.85) rotate(-90) scale(1 1.13)"><tspan font-style="italic">P</tspan> = 0.0529</text>
<line x1="1745.86" y1="953.8" x2="1745.86" y2="981.17" stroke="#000" stroke-width="2.2"/>
<line x1="1742.26" y1="953.8" x2="1749.46" y2="953.8" stroke="#000" stroke-width="2.2"/>
<line x1="1742.26" y1="981.17" x2="1749.46" y2="981.17" stroke="#000" stroke-width="2.2"/>
<circle cx="1740.66" cy="949.15" r="4" fill="#000"/>
<circle cx="1751.06" cy="959.28" r="4" fill="#000"/>
<circle cx="1745.86" cy="992.94" r="4" fill="#000"/>
<text font-size="22.7" transform="translate(1754.06 938.75) rotate(-90) scale(1 1.13)"><tspan font-style="italic">P</tspan> = 0.0232</text>
<line x1="1785.82" y1="857.19" x2="1785.82" y2="866.22" stroke="#000" stroke-width="2.2"/>
<line x1="1782.22" y1="857.19" x2="1789.42" y2="857.19" stroke="#000" stroke-width="2.2"/>
<line x1="1782.22" y1="866.22" x2="1789.42" y2="866.22" stroke="#000" stroke-width="2.2"/>
<circle cx="1785.82" cy="854.72" r="4" fill="#000"/>
<circle cx="1780.34" cy="866.22" r="4" fill="#000"/>
<circle cx="1791.29" cy="864.3" r="4" fill="#000"/>
<text font-size="22.7" transform="translate(1794.02 839.67) rotate(-90) scale(1 1.13)"><tspan font-style="italic">P</tspan> = 0.0016</text>
<line x1="1827.42" y1="996.5" x2="1827.42" y2="1021.13" stroke="#000" stroke-width="2.2"/>
<line x1="1823.82" y1="996.5" x2="1831.02" y2="996.5" stroke="#000" stroke-width="2.2"/>
<line x1="1823.82" y1="1021.13" x2="1831.02" y2="1021.13" stroke="#000" stroke-width="2.2"/>
<circle cx="1827.69" cy="987.47" r="4" fill="#000"/>
<circle cx="1827.69" cy="1010.18" r="4" fill="#000"/>
<circle cx="1827.69" cy="1027.97" r="4" fill="#000"/>
<text font-size="22.7" transform="translate(1835.62 977.07) rotate(-90) scale(1 1.13)"><tspan font-style="italic">P</tspan> = 0.0144</text>
<line x1="1865.74" y1="916.03" x2="1865.74" y2="936.01" stroke="#000" stroke-width="2.2"/>
<line x1="1862.14" y1="916.03" x2="1869.34" y2="916.03" stroke="#000" stroke-width="2.2"/>
<line x1="1862.14" y1="936.01" x2="1869.34" y2="936.01" stroke="#000" stroke-width="2.2"/>
<circle cx="1865.74" cy="906.45" r="4" fill="#000"/>
<circle cx="1860.54" cy="936.83" r="4" fill="#000"/>
<circle cx="1871.49" cy="934.64" r="4" fill="#000"/>
<text font-size="22.7" transform="translate(1873.94 896.33) rotate(-90) scale(1 1.13)"><tspan font-style="italic">P</tspan> = 0.0359</text>
<line x1="1905.7" y1="883.19" x2="1905.7" y2="910.01" stroke="#000" stroke-width="2.2"/>
<line x1="1902.1" y1="883.19" x2="1909.3" y2="883.19" stroke="#000" stroke-width="2.2"/>
<line x1="1902.1" y1="910.01" x2="1909.3" y2="910.01" stroke="#000" stroke-width="2.2"/>
<circle cx="1905.7" cy="875.25" r="4" fill="#000"/>
<circle cx="1905.7" cy="893.59" r="4" fill="#000"/>
<circle cx="1905.7" cy="920.96" r="4" fill="#000"/>
<text font-size="22.7" transform="translate(1913.9 864.85) rotate(-90) scale(1 1.13)"><tspan font-style="italic">P</tspan> = 0.4536</text>
<line x1="1945.93" y1="935.46" x2="1945.93" y2="944.22" stroke="#000" stroke-width="2.2"/>
<line x1="1942.33" y1="935.46" x2="1949.53" y2="935.46" stroke="#000" stroke-width="2.2"/>
<line x1="1942.33" y1="944.22" x2="1949.53" y2="944.22" stroke="#000" stroke-width="2.2"/>
<circle cx="1945.93" cy="931.91" r="4" fill="#000"/>
<circle cx="1951.4" cy="936.01" r="4" fill="#000"/>
<circle cx="1940.46" cy="945.59" r="4" fill="#000"/>
<text font-size="22.7" transform="translate(1954.13 919.59) rotate(-90) scale(1 1.13)"><tspan font-style="italic">P</tspan> = 0.0136</text>
<line x1="1985.89" y1="829.82" x2="1985.89" y2="836.93" stroke="#000" stroke-width="2.2"/>
<line x1="1982.29" y1="829.82" x2="1989.49" y2="829.82" stroke="#000" stroke-width="2.2"/>
<line x1="1982.29" y1="836.93" x2="1989.49" y2="836.93" stroke="#000" stroke-width="2.2"/>
<circle cx="1977.4" cy="828.45" r="4" fill="#000"/>
<circle cx="1994.1" cy="833.38" r="4" fill="#000"/>
<circle cx="1985.89" cy="837.48" r="4" fill="#000"/>
<text font-size="22.7" transform="translate(1994.09 818.87) rotate(-90) scale(1 1.13)"><tspan font-style="italic">P</tspan> &lt; 0.0001</text>
<line x1="2025.85" y1="992.94" x2="2025.85" y2="1001.7" stroke="#000" stroke-width="2.2"/>
<line x1="2022.25" y1="992.94" x2="2029.45" y2="992.94" stroke="#000" stroke-width="2.2"/>
<line x1="2022.25" y1="1001.7" x2="2029.45" y2="1001.7" stroke="#000" stroke-width="2.2"/>
<circle cx="2017.36" cy="990.2" r="4" fill="#000"/>
<circle cx="2025.85" cy="999.78" r="4" fill="#000"/>
<circle cx="2034.33" cy="998.96" r="4" fill="#000"/>
<text font-size="22.7" transform="translate(2034.05 978.43) rotate(-90) scale(1 1.13)"><tspan font-style="italic">P</tspan> = 0.0002</text>
<line x1="2065.81" y1="914.94" x2="2065.81" y2="937.38" stroke="#000" stroke-width="2.2"/>
<line x1="2062.21" y1="914.94" x2="2069.41" y2="914.94" stroke="#000" stroke-width="2.2"/>
<line x1="2062.21" y1="937.38" x2="2069.41" y2="937.38" stroke="#000" stroke-width="2.2"/>
<circle cx="2060.33" cy="913.57" r="4" fill="#000"/>
<circle cx="2071.28" cy="916.03" r="4" fill="#000"/>
<circle cx="2065.81" cy="948.33" r="4" fill="#000"/>
<text font-size="22.7" transform="translate(2074.01 902.62) rotate(-90) scale(1 1.13)"><tspan font-style="italic">P</tspan> = 0.0037</text>
<line x1="1198" y1="766.3" x2="1198" y2="1125.2" stroke="#111" stroke-width="2.2"/>
<text font-size="25.3" text-anchor="end" x="1182" y="1132.86">0</text>
<line x1="1188.3" y1="1082.4" x2="1198" y2="1082.4" stroke="#111" stroke-width="2.2"/>
<text font-size="25.3" text-anchor="end" x="1182" y="1091.46">0.2</text>
<line x1="1188.3" y1="1039.2" x2="1198" y2="1039.2" stroke="#111" stroke-width="2.2"/>
<text font-size="25.3" text-anchor="end" x="1182" y="1048.26">0.4</text>
<line x1="1188.3" y1="996" x2="1198" y2="996" stroke="#111" stroke-width="2.2"/>
<text font-size="25.3" text-anchor="end" x="1182" y="1005.06">0.6</text>
<line x1="1188.3" y1="952.8" x2="1198" y2="952.8" stroke="#111" stroke-width="2.2"/>
<text font-size="25.3" text-anchor="end" x="1182" y="961.86">0.8</text>
<line x1="1188.3" y1="909.6" x2="1198" y2="909.6" stroke="#111" stroke-width="2.2"/>
<text font-size="25.3" text-anchor="end" x="1182" y="918.66">1.0</text>
<line x1="1188.3" y1="866.4" x2="1198" y2="866.4" stroke="#111" stroke-width="2.2"/>
<text font-size="25.3" text-anchor="end" x="1182" y="875.46">1.2</text>
<line x1="1188.3" y1="823.2" x2="1198" y2="823.2" stroke="#111" stroke-width="2.2"/>
<text font-size="25.3" text-anchor="end" x="1182" y="832.26">1.4</text>
<line x1="1188.3" y1="780" x2="1198" y2="780" stroke="#111" stroke-width="2.2"/>
<text font-size="25.3" text-anchor="end" x="1182" y="789.06">1.6</text>
<line x1="1187.6" y1="1124.1" x2="2097.2" y2="1124.1" stroke="#111" stroke-width="2.4"/>
<text font-size="26.65" text-anchor="middle" transform="translate(1096.8 938.3) rotate(-90)">Relative luciferase activity</text>
<text font-size="26.65" text-anchor="middle" transform="translate(1129.5 931) rotate(-90)">(RL/FL)</text>
<line x1="1249.4" y1="1132.5" x2="1321" y2="1132.5" stroke="#111" stroke-width="1.8"/>
<line x1="1328" y1="1132.5" x2="1399" y2="1132.5" stroke="#111" stroke-width="1.8"/>
<line x1="1409" y1="1132.5" x2="1480" y2="1132.5" stroke="#111" stroke-width="1.8"/>
<line x1="1529" y1="1132.5" x2="1600.5" y2="1132.5" stroke="#111" stroke-width="1.8"/>
<line x1="1609.3" y1="1132.5" x2="1680.7" y2="1132.5" stroke="#111" stroke-width="1.8"/>
<line x1="1730.5" y1="1132.5" x2="1801.7" y2="1132.5" stroke="#111" stroke-width="1.8"/>
<line x1="1808" y1="1132.5" x2="1879.7" y2="1132.5" stroke="#111" stroke-width="1.8"/>
<line x1="1929" y1="1132.5" x2="2000" y2="1132.5" stroke="#111" stroke-width="1.8"/>
<line x1="2009.7" y1="1132.5" x2="2080.8" y2="1132.5" stroke="#111" stroke-width="1.8"/>
<line x1="1253.5" y1="1203" x2="1480.6" y2="1203" stroke="#111" stroke-width="1.8"/>
<line x1="1493.5" y1="1203" x2="1685.4" y2="1203" stroke="#111" stroke-width="1.8"/>
<line x1="1690" y1="1203" x2="1881.9" y2="1203" stroke="#111" stroke-width="1.8"/>
<line x1="1893.4" y1="1203" x2="2085.5" y2="1203" stroke="#111" stroke-width="1.8"/>
<text font-size="27.2" text-anchor="middle" x="1383" y="1238.2">Calm1</text>
<text font-size="27.2" text-anchor="middle" x="1593.9" y="1238.2">Birc5</text>
<text font-size="27.2" text-anchor="middle" x="1792.7" y="1238.2">Cdc42</text>
<text font-size="27.2" text-anchor="middle" x="2006.5" y="1238.2">Ska1</text>
<text font-size="26.2" text-anchor="end" transform="translate(1239 1155.5) rotate(-45)">Ctrl</text>
<text font-size="26.2" text-anchor="end" transform="translate(1296.2 1154.1) rotate(-45)">18</text>
<text font-size="26.2" text-anchor="end" transform="translate(1375.5 1152.5) rotate(-45)">336</text>
<text font-size="26.2" text-anchor="end" transform="translate(1454.9 1152.5) rotate(-45)">503</text>
<text font-size="26.2" text-anchor="end" transform="translate(1522 1152.5) rotate(-45)">865</text>
<text font-size="26.2" text-anchor="end" transform="translate(1586.3 1153.5) rotate(-45)">1160</text>
<text font-size="26.2" text-anchor="end" transform="translate(1661 1152.5) rotate(-45)">1185</text>
<text font-size="26.2" text-anchor="end" transform="translate(1720.7 1154.1) rotate(-45)">366</text>
<text font-size="26.2" text-anchor="end" transform="translate(1779.5 1154.1) rotate(-45)">668</text>
<text font-size="26.2" text-anchor="end" transform="translate(1860.3 1154.1) rotate(-45)">1049</text>
<text font-size="26.2" text-anchor="end" transform="translate(1926 1154.1) rotate(-45)">233</text>
<text font-size="26.2" text-anchor="end" transform="translate(1980.1 1155.5) rotate(-45)">22</text>
<text font-size="26.2" text-anchor="end" transform="translate(2058.7 1154.1) rotate(-45)">384</text>
<text font-size="46.5" fill="#000" font-weight="bold" x="4.8" y="1317">d</text>
<rect x="177.2" y="1529.4" width="34.8" height="30.1" fill="#6f6f6f"/>
<rect x="177.2" y="1596.3" width="34.8" height="222.6" fill="#6f6f6f"/>
<rect x="519.2" y="1394.7" width="34.8" height="164.8" fill="#c4626d"/>
<rect x="519.2" y="1596.3" width="34.8" height="222.6" fill="#c4626d"/>
<rect x="234.2" y="1809.1" width="34.8" height="9.8" fill="#b9bdd6"/>
<rect x="291.2" y="1712.7" width="34.8" height="106.2" fill="#c4626d"/>
<rect x="348.2" y="1723" width="34.8" height="95.9" fill="#b9bdd6"/>
<rect x="405.2" y="1655.5" width="34.8" height="163.4" fill="#c4626d"/>
<rect x="462.2" y="1675.3" width="34.8" height="143.6" fill="#b9bdd6"/>
<line x1="194.6" y1="1519.4" x2="194.6" y2="1534.6" stroke="#000" stroke-width="3.6"/>
<line x1="189.8" y1="1519.4" x2="199.4" y2="1519.4" stroke="#000" stroke-width="4.2"/>
<line x1="189.8" y1="1534.6" x2="199.4" y2="1534.6" stroke="#000" stroke-width="4.2"/>
<circle cx="194.6" cy="1511.8" r="4.9" fill="#000"/>
<circle cx="187" cy="1538.5" r="4.9" fill="#000"/>
<circle cx="202.2" cy="1535.5" r="4.9" fill="#000"/>
<rect x="247.1" y="1806" width="9" height="9" fill="#000"/>
<circle cx="239.6" cy="1805.2" r="4.9" fill="#000"/>
<circle cx="251.6" cy="1812.2" r="4.9" fill="#000"/>
<circle cx="263.6" cy="1812.2" r="4.9" fill="#000"/>
<line x1="308.6" y1="1702.7" x2="308.6" y2="1722.4" stroke="#000" stroke-width="3.6"/>
<line x1="303.8" y1="1702.7" x2="313.4" y2="1702.7" stroke="#000" stroke-width="4.2"/>
<line x1="303.8" y1="1722.4" x2="313.4" y2="1722.4" stroke="#000" stroke-width="4.2"/>
<circle cx="308.6" cy="1695.1" r="4.9" fill="#000"/>
<circle cx="308.6" cy="1713.3" r="4.9" fill="#000"/>
<circle cx="308.6" cy="1729.4" r="4.9" fill="#000"/>
<line x1="365.6" y1="1713.3" x2="365.6" y2="1730" stroke="#000" stroke-width="3.6"/>
<line x1="360.8" y1="1713.3" x2="370.4" y2="1713.3" stroke="#000" stroke-width="4.2"/>
<line x1="360.8" y1="1730" x2="370.4" y2="1730" stroke="#000" stroke-width="4.2"/>
<circle cx="358.3" cy="1708.8" r="4.9" fill="#000"/>
<circle cx="373.2" cy="1720" r="4.9" fill="#000"/>
<circle cx="365.6" cy="1738.3" r="4.9" fill="#000"/>
<line x1="422.6" y1="1637.9" x2="422.6" y2="1671.4" stroke="#000" stroke-width="3.6"/>
<line x1="417.8" y1="1637.9" x2="427.4" y2="1637.9" stroke="#000" stroke-width="4.2"/>
<line x1="417.8" y1="1671.4" x2="427.4" y2="1671.4" stroke="#000" stroke-width="4.2"/>
<circle cx="422.6" cy="1626" r="4.9" fill="#000"/>
<circle cx="422.6" cy="1657" r="4.9" fill="#000"/>
<circle cx="422.6" cy="1680.8" r="4.9" fill="#000"/>
<line x1="479.6" y1="1660" x2="479.6" y2="1689" stroke="#000" stroke-width="3.6"/>
<line x1="474.8" y1="1660" x2="484.4" y2="1660" stroke="#000" stroke-width="4.2"/>
<line x1="474.8" y1="1689" x2="484.4" y2="1689" stroke="#000" stroke-width="4.2"/>
<circle cx="479.6" cy="1652.5" r="4.9" fill="#000"/>
<circle cx="479.6" cy="1670.1" r="4.9" fill="#000"/>
<circle cx="479.6" cy="1701.2" r="4.9" fill="#000"/>
<line x1="536.6" y1="1375" x2="536.6" y2="1410.5" stroke="#000" stroke-width="3.6"/>
<line x1="531.8" y1="1375" x2="541.4" y2="1375" stroke="#000" stroke-width="4.2"/>
<line x1="531.8" y1="1410.5" x2="541.4" y2="1410.5" stroke="#000" stroke-width="4.2"/>
<circle cx="536.6" cy="1364.3" r="4.9" fill="#000"/>
<circle cx="536.6" cy="1391.7" r="4.9" fill="#000"/>
<circle cx="536.6" cy="1424.5" r="4.9" fill="#000"/>
<line x1="156.6" y1="1335.3" x2="156.6" y2="1562" stroke="#111" stroke-width="2.5"/>
<line x1="156.6" y1="1592" x2="156.6" y2="1820.15" stroke="#111" stroke-width="2.5"/>
<line x1="144.5" y1="1551.3" x2="168.8" y2="1574.1" stroke="#111" stroke-width="2"/>
<line x1="144.5" y1="1580.2" x2="167.3" y2="1603" stroke="#111" stroke-width="2"/>
<line x1="143" y1="1528.5" x2="156.6" y2="1528.5" stroke="#111" stroke-width="2.5"/>
<text font-size="25" text-anchor="end" x="136" y="1537.45">1.0</text>
<line x1="143" y1="1464.43" x2="156.6" y2="1464.43" stroke="#111" stroke-width="2.5"/>
<text font-size="25" text-anchor="end" x="136" y="1473.38">1.2</text>
<line x1="143" y1="1400.36" x2="156.6" y2="1400.36" stroke="#111" stroke-width="2.5"/>
<text font-size="25" text-anchor="end" x="136" y="1409.31">1.4</text>
<line x1="143" y1="1336.29" x2="156.6" y2="1336.29" stroke="#111" stroke-width="2.5"/>
<text font-size="25" text-anchor="end" x="136" y="1345.24">1.6</text>
<line x1="143" y1="1818.9" x2="156.6" y2="1818.9" stroke="#111" stroke-width="2.5"/>
<text font-size="25" text-anchor="end" x="136" y="1827.85">0</text>
<line x1="143" y1="1743.6" x2="156.6" y2="1743.6" stroke="#111" stroke-width="2.5"/>
<text font-size="25" text-anchor="end" x="136" y="1752.55">0.2</text>
<line x1="143" y1="1668.3" x2="156.6" y2="1668.3" stroke="#111" stroke-width="2.5"/>
<text font-size="25" text-anchor="end" x="136" y="1677.25">0.4</text>
<text font-size="25" text-anchor="end" x="136" y="1601.95">0.6</text>
<line x1="142" y1="1818.9" x2="577.9" y2="1818.9" stroke="#111" stroke-width="2.5"/>
<text font-size="26.3" text-anchor="middle" transform="translate(68.6 1567.7) rotate(-90)">Relative luciferase activity (RL/FL)</text>
<text font-size="26.9" transform="translate(453.8 1337.5) rotate(0) scale(1 1.05)"><tspan font-style="italic">P</tspan> = 0.0001</text>
<line x1="490.3" y1="1347" x2="539.2" y2="1347" stroke="#111" stroke-width="2"/>
<text font-size="26.9" transform="translate(274.6 1413) rotate(0) scale(1 1.05)"><tspan font-style="italic">P</tspan> = 0.0002</text>
<line x1="186" y1="1420" x2="480.5" y2="1420" stroke="#111" stroke-width="2"/>
<text font-size="26.9" transform="translate(215.3 1447) rotate(0) scale(1 1.05)"><tspan font-style="italic">P</tspan> &lt; 0.0001</text>
<line x1="189.2" y1="1453" x2="360.4" y2="1453" stroke="#111" stroke-width="2"/>
<text font-size="26.9" transform="translate(168.8 1482) rotate(0) scale(1 1.05)"><tspan font-style="italic">P</tspan> &lt; 0.0001</text>
<line x1="192.5" y1="1491.4" x2="247.9" y2="1491.4" stroke="#111" stroke-width="2"/>
<text font-size="26.9" transform="translate(341.2 1593.4) rotate(0) scale(1 1.05)"><tspan font-style="italic">P</tspan> = 0.0194</text>
<line x1="373.5" y1="1600.6" x2="421.8" y2="1600.6" stroke="#111" stroke-width="2"/>
<text font-size="26.9" transform="translate(219.6 1664.3) rotate(0) scale(1 1.05)"><tspan font-style="italic">P</tspan> = 0.0006</text>
<line x1="260.6" y1="1672.3" x2="308.7" y2="1672.3" stroke="#111" stroke-width="2"/>
<text font-size="26.1" text-anchor="end" transform="translate(200.2 1841) rotate(-45)">Vehicle</text>
<text font-size="26.1" text-anchor="end" transform="translate(265.5 1841) rotate(-45)">Chk1-1WT</text>
<text font-size="26.1" text-anchor="end" transform="translate(318.8 1839.5) rotate(-45)">Chk1-1MT</text>
<text font-size="26.1" text-anchor="end" transform="translate(375.1 1839.5) rotate(-45)">Chk1-1976WT</text>
<text font-size="26.1" text-anchor="end" transform="translate(431.3 1839.5) rotate(-45)">Chk1-1976MT</text>
<text font-size="26.1" text-anchor="end" transform="translate(490.5 1839.5) rotate(-45)">Chk1-2932WT</text>
<text font-size="26.1" text-anchor="end" transform="translate(551.5 1839.5) rotate(-45)">Chk1-2932MT</text>
<text font-size="43.5" fill="#000" font-weight="bold" x="654" y="1316.8">e</text>
<rect x="790.5" y="1398.7" width="44.8" height="419.9" fill="#6f6f6f"/>
<rect x="860.6" y="1422.6" width="44.8" height="396" fill="#c4626d"/>
<rect x="930.8" y="1417" width="44.8" height="401.6" fill="#c4626d"/>
<rect x="1001.2" y="1383.3" width="44.8" height="435.3" fill="#c4626d"/>
<line x1="812.9" y1="1391" x2="812.9" y2="1400.5" stroke="#000" stroke-width="3.9"/>
<line x1="806.55" y1="1391" x2="819.25" y2="1391" stroke="#000" stroke-width="4.5"/>
<line x1="806.55" y1="1400.5" x2="819.25" y2="1400.5" stroke="#000" stroke-width="4.5"/>
<circle cx="812.9" cy="1384.5" r="4.35" fill="#000"/>
<circle cx="806.6" cy="1405.6" r="4.35" fill="#000"/>
<circle cx="818.5" cy="1402.3" r="4.35" fill="#000"/>
<line x1="883" y1="1408.9" x2="883" y2="1432.2" stroke="#000" stroke-width="3.9"/>
<line x1="876.65" y1="1408.9" x2="889.35" y2="1408.9" stroke="#000" stroke-width="4.5"/>
<line x1="876.65" y1="1432.2" x2="889.35" y2="1432.2" stroke="#000" stroke-width="4.5"/>
<circle cx="883" cy="1401.8" r="4.35" fill="#000"/>
<circle cx="883" cy="1423.3" r="4.35" fill="#000"/>
<circle cx="883" cy="1440.5" r="4.35" fill="#000"/>
<line x1="953.2" y1="1413.2" x2="953.2" y2="1422" stroke="#000" stroke-width="3.9"/>
<line x1="946.85" y1="1413.2" x2="959.55" y2="1413.2" stroke="#000" stroke-width="4.5"/>
<line x1="946.85" y1="1422" x2="959.55" y2="1422" stroke="#000" stroke-width="4.5"/>
<circle cx="947.6" cy="1410.1" r="4.35" fill="#000"/>
<circle cx="959" cy="1410.1" r="4.35" fill="#000"/>
<circle cx="953.2" cy="1425.1" r="4.35" fill="#000"/>
<line x1="1023.6" y1="1377.7" x2="1023.6" y2="1387.8" stroke="#000" stroke-width="3.9"/>
<line x1="1017.25" y1="1377.7" x2="1029.95" y2="1377.7" stroke="#000" stroke-width="4.5"/>
<line x1="1017.25" y1="1387.8" x2="1029.95" y2="1387.8" stroke="#000" stroke-width="4.5"/>
<circle cx="1023.6" cy="1373.4" r="4.35" fill="#000"/>
<circle cx="1029" cy="1380.2" r="4.35" fill="#000"/>
<circle cx="1018.1" cy="1392.4" r="4.35" fill="#000"/>
<line x1="764.7" y1="1367.6" x2="764.7" y2="1819.85" stroke="#111" stroke-width="2.5"/>
<text font-size="25.3" text-anchor="end" x="747.5" y="1827.66">0</text>
<line x1="753.2" y1="1734.6" x2="764.7" y2="1734.6" stroke="#111" stroke-width="2.5"/>
<text font-size="25.3" text-anchor="end" x="747.5" y="1743.66">0.2</text>
<line x1="753.2" y1="1650.6" x2="764.7" y2="1650.6" stroke="#111" stroke-width="2.5"/>
<text font-size="25.3" text-anchor="end" x="747.5" y="1659.66">0.4</text>
<line x1="753.2" y1="1566.6" x2="764.7" y2="1566.6" stroke="#111" stroke-width="2.5"/>
<text font-size="25.3" text-anchor="end" x="747.5" y="1575.66">0.6</text>
<line x1="753.2" y1="1482.6" x2="764.7" y2="1482.6" stroke="#111" stroke-width="2.5"/>
<text font-size="25.3" text-anchor="end" x="747.5" y="1491.66">0.8</text>
<line x1="753.2" y1="1398.6" x2="764.7" y2="1398.6" stroke="#111" stroke-width="2.5"/>
<text font-size="25.3" text-anchor="end" x="747.5" y="1407.66">1.0</text>
<line x1="753.3" y1="1818.6" x2="1073.1" y2="1818.6" stroke="#111" stroke-width="2.5"/>
<text font-size="27.8" text-anchor="middle" transform="translate(694.3 1604) rotate(-90)">Relative Calm1 mRNA abundance</text>
<text font-size="26.9" transform="translate(856.7 1301.7) rotate(0) scale(1 1.05)"><tspan font-style="italic">P</tspan> = 0.1308</text>
<line x1="812.4" y1="1308.5" x2="1028.8" y2="1308.5" stroke="#111" stroke-width="2"/>
<text font-size="26.9" transform="translate(824.3 1335.9) rotate(0) scale(1 1.05)"><tspan font-style="italic">P</tspan> = 0.839</text>
<line x1="812.4" y1="1342.2" x2="950.5" y2="1342.2" stroke="#111" stroke-width="2"/>
<text font-size="26.9" transform="translate(790.6 1370.9) rotate(0) scale(1 1.05)"><tspan font-style="italic">P</tspan> = 0.1427</text>
<line x1="812.4" y1="1375.7" x2="886.4" y2="1375.7" stroke="#111" stroke-width="2"/>
<text font-size="26" text-anchor="end" transform="translate(816.67 1839.75) rotate(-45)">mCherry control</text>
<text font-size="26" text-anchor="end" transform="translate(888.13 1841.78) rotate(-45)">336 sponge</text>
<text font-size="26" text-anchor="end" transform="translate(959.85 1841.78) rotate(-45)">503 sponge</text>
<text font-size="26" text-anchor="end" transform="translate(1037.65 1841.78) rotate(-45)">336 &amp; 503 sponges</text>
<text font-size="46.5" fill="#000" font-weight="bold" x="1152" y="1316.5">f</text>
<rect x="1286.65" y="1461.6" width="46.3" height="357" fill="#6f6f6f"/>
<rect x="1359.65" y="1436.8" width="46.3" height="381.8" fill="#c4626d"/>
<rect x="1432.45" y="1453.7" width="46.3" height="364.9" fill="#c4626d"/>
<rect x="1505.15" y="1442.8" width="46.3" height="375.8" fill="#c4626d"/>
<line x1="1309.8" y1="1432.2" x2="1309.8" y2="1485.4" stroke="#000" stroke-width="4.6"/>
<line x1="1303.45" y1="1432.2" x2="1316.15" y2="1432.2" stroke="#000" stroke-width="5.2"/>
<line x1="1303.45" y1="1485.4" x2="1316.15" y2="1485.4" stroke="#000" stroke-width="5.2"/>
<circle cx="1309.8" cy="1410.6" r="5.1" fill="#000"/>
<circle cx="1309.8" cy="1465.9" r="5.1" fill="#000"/>
<circle cx="1309.8" cy="1500.6" r="5.1" fill="#000"/>
<line x1="1382.8" y1="1431.7" x2="1382.8" y2="1436.8" stroke="#000" stroke-width="4.6"/>
<line x1="1376.45" y1="1431.7" x2="1389.15" y2="1431.7" stroke="#000" stroke-width="5.2"/>
<line x1="1376.45" y1="1436.8" x2="1389.15" y2="1436.8" stroke="#000" stroke-width="5.2"/>
<circle cx="1367.8" cy="1430.2" r="5.1" fill="#000"/>
<circle cx="1382.8" cy="1437.3" r="5.1" fill="#000"/>
<circle cx="1397.3" cy="1436" r="5.1" fill="#000"/>
<line x1="1455.6" y1="1439.8" x2="1455.6" y2="1462.6" stroke="#000" stroke-width="4.6"/>
<line x1="1449.25" y1="1439.8" x2="1461.95" y2="1439.8" stroke="#000" stroke-width="5.2"/>
<line x1="1449.25" y1="1462.6" x2="1461.95" y2="1462.6" stroke="#000" stroke-width="5.2"/>
<circle cx="1447.7" cy="1438" r="5.1" fill="#000"/>
<circle cx="1462.9" cy="1443.6" r="5.1" fill="#000"/>
<circle cx="1455.6" cy="1472.7" r="5.1" fill="#000"/>
<line x1="1528.3" y1="1407.6" x2="1528.3" y2="1469" stroke="#000" stroke-width="4.6"/>
<line x1="1521.95" y1="1407.6" x2="1534.65" y2="1407.6" stroke="#000" stroke-width="5.2"/>
<line x1="1521.95" y1="1469" x2="1534.65" y2="1469" stroke="#000" stroke-width="5.2"/>
<circle cx="1528.3" cy="1381.5" r="5.1" fill="#000"/>
<circle cx="1528.3" cy="1448.7" r="5.1" fill="#000"/>
<circle cx="1528.3" cy="1485.4" r="5.1" fill="#000"/>
<line x1="1260.4" y1="1368.3" x2="1260.4" y2="1819.85" stroke="#111" stroke-width="2.5"/>
<text font-size="25.3" text-anchor="end" x="1240" y="1827.66">0</text>
<line x1="1248.9" y1="1747.15" x2="1260.4" y2="1747.15" stroke="#111" stroke-width="2.5"/>
<text font-size="25.3" text-anchor="end" x="1240" y="1756.21">0.2</text>
<line x1="1248.9" y1="1675.7" x2="1260.4" y2="1675.7" stroke="#111" stroke-width="2.5"/>
<text font-size="25.3" text-anchor="end" x="1240" y="1684.76">0.4</text>
<line x1="1248.9" y1="1604.25" x2="1260.4" y2="1604.25" stroke="#111" stroke-width="2.5"/>
<text font-size="25.3" text-anchor="end" x="1240" y="1613.31">0.6</text>
<line x1="1248.9" y1="1532.8" x2="1260.4" y2="1532.8" stroke="#111" stroke-width="2.5"/>
<text font-size="25.3" text-anchor="end" x="1240" y="1541.86">0.8</text>
<line x1="1248.9" y1="1461.35" x2="1260.4" y2="1461.35" stroke="#111" stroke-width="2.5"/>
<text font-size="25.3" text-anchor="end" x="1240" y="1470.41">1.0</text>
<line x1="1248.9" y1="1389.9" x2="1260.4" y2="1389.9" stroke="#111" stroke-width="2.5"/>
<text font-size="25.3" text-anchor="end" x="1240" y="1398.96">1.2</text>
<line x1="1247" y1="1818.6" x2="1573.9" y2="1818.6" stroke="#111" stroke-width="2.5"/>
<text font-size="27.2" text-anchor="middle" transform="translate(1181.6 1604) rotate(-90)">Relative Bub3 mRNA abundance</text>
<text font-size="26.9" transform="translate(1354.2 1327.5) rotate(0) scale(1 1.05)"><tspan font-style="italic">P</tspan> = 0.6301</text>
<line x1="1306.5" y1="1332.8" x2="1524" y2="1332.8" stroke="#111" stroke-width="2"/>
<text font-size="26.9" transform="translate(1314.1 1359.5) rotate(0) scale(1 1.05)"><tspan font-style="italic">P</tspan> = 0.8011</text>
<line x1="1306.5" y1="1365.8" x2="1445.2" y2="1365.8" stroke="#111" stroke-width="2"/>
<text font-size="26.9" transform="translate(1285 1393.7) rotate(0) scale(1 1.05)"><tspan font-style="italic">P</tspan> = 0.4017</text>
<line x1="1306.5" y1="1399.2" x2="1381.3" y2="1399.2" stroke="#111" stroke-width="2"/>
<text font-size="26" text-anchor="end" transform="translate(1324.27 1839.75) rotate(-45)">mCherry control</text>
<text font-size="26" text-anchor="end" transform="translate(1390.16 1841.78) rotate(-45)">607 sponge</text>
<text font-size="26" text-anchor="end" transform="translate(1459.85 1841.78) rotate(-45)">2837 sponge</text>
<text font-size="26" text-anchor="end" transform="translate(1543.99 1841.78) rotate(-45)">607 &amp; 2837 sponges</text>
<text font-size="45.5" fill="#000" font-weight="bold" x="1653.6" y="1317">g</text>
<rect x="1783.3" y="1417" width="44" height="402" fill="#6f6f6f"/>
<rect x="1853.2" y="1420.8" width="44" height="398.2" fill="#c4626d"/>
<rect x="1922.9" y="1413.7" width="44" height="405.3" fill="#c4626d"/>
<rect x="1992.6" y="1459.3" width="44" height="359.7" fill="#c4626d"/>
<line x1="1805.3" y1="1400.5" x2="1805.3" y2="1432.2" stroke="#000" stroke-width="4.6"/>
<line x1="1798.95" y1="1400.5" x2="1811.65" y2="1400.5" stroke="#000" stroke-width="5.2"/>
<line x1="1798.95" y1="1432.2" x2="1811.65" y2="1432.2" stroke="#000" stroke-width="5.2"/>
<circle cx="1798.3" cy="1398.7" r="4.9" fill="#000"/>
<circle cx="1812.6" cy="1401.8" r="4.9" fill="#000"/>
<circle cx="1805.3" cy="1448.7" r="4.9" fill="#000"/>
<line x1="1875.2" y1="1399.2" x2="1875.2" y2="1439.3" stroke="#000" stroke-width="4.6"/>
<line x1="1868.85" y1="1399.2" x2="1881.55" y2="1399.2" stroke="#000" stroke-width="5.2"/>
<line x1="1868.85" y1="1439.3" x2="1881.55" y2="1439.3" stroke="#000" stroke-width="5.2"/>
<circle cx="1875.2" cy="1390.9" r="4.9" fill="#000"/>
<circle cx="1875.2" cy="1408.1" r="4.9" fill="#000"/>
<circle cx="1875.2" cy="1459.3" r="4.9" fill="#000"/>
<line x1="1944.9" y1="1384.8" x2="1944.9" y2="1439.8" stroke="#000" stroke-width="4.6"/>
<line x1="1938.55" y1="1384.8" x2="1951.25" y2="1384.8" stroke="#000" stroke-width="5.2"/>
<line x1="1938.55" y1="1439.8" x2="1951.25" y2="1439.8" stroke="#000" stroke-width="5.2"/>
<circle cx="1944.9" cy="1360.7" r="4.9" fill="#000"/>
<circle cx="1944.9" cy="1417.7" r="4.9" fill="#000"/>
<circle cx="1944.9" cy="1458" r="4.9" fill="#000"/>
<line x1="2014.6" y1="1447.4" x2="2014.6" y2="1469.7" stroke="#000" stroke-width="4.6"/>
<line x1="2008.25" y1="1447.4" x2="2020.95" y2="1447.4" stroke="#000" stroke-width="5.2"/>
<line x1="2008.25" y1="1469.7" x2="2020.95" y2="1469.7" stroke="#000" stroke-width="5.2"/>
<circle cx="2007.8" cy="1444.9" r="4.9" fill="#000"/>
<circle cx="2021.7" cy="1446.9" r="4.9" fill="#000"/>
<circle cx="2014.6" cy="1481.6" r="4.9" fill="#000"/>
<line x1="1756.8" y1="1356.2" x2="1756.8" y2="1820.25" stroke="#111" stroke-width="2.5"/>
<text font-size="25.3" text-anchor="end" x="1736.5" y="1828.06">0</text>
<line x1="1745.3" y1="1738.55" x2="1756.8" y2="1738.55" stroke="#111" stroke-width="2.5"/>
<text font-size="25.3" text-anchor="end" x="1736.5" y="1747.61">0.2</text>
<line x1="1745.3" y1="1658.1" x2="1756.8" y2="1658.1" stroke="#111" stroke-width="2.5"/>
<text font-size="25.3" text-anchor="end" x="1736.5" y="1667.16">0.4</text>
<line x1="1745.3" y1="1577.65" x2="1756.8" y2="1577.65" stroke="#111" stroke-width="2.5"/>
<text font-size="25.3" text-anchor="end" x="1736.5" y="1586.71">0.6</text>
<line x1="1745.3" y1="1497.2" x2="1756.8" y2="1497.2" stroke="#111" stroke-width="2.5"/>
<text font-size="25.3" text-anchor="end" x="1736.5" y="1506.26">0.8</text>
<line x1="1745.3" y1="1416.75" x2="1756.8" y2="1416.75" stroke="#111" stroke-width="2.5"/>
<text font-size="25.3" text-anchor="end" x="1736.5" y="1425.81">1.0</text>
<line x1="1743.4" y1="1819" x2="2064.8" y2="1819" stroke="#111" stroke-width="2.5"/>
<text font-size="27.2" text-anchor="middle" transform="translate(1687 1603) rotate(-90)">Relative Nuf2 mRNA abundance</text>
<text font-size="26.9" transform="translate(1845 1306.7) rotate(0) scale(1 1.05)"><tspan font-style="italic">P</tspan> = 0.1049</text>
<line x1="1801.2" y1="1312.3" x2="2018.6" y2="1312.3" stroke="#111" stroke-width="2"/>
<text font-size="26.9" transform="translate(1805 1337.7) rotate(0) scale(1 1.05)"><tspan font-style="italic">P</tspan> = 0.9060</text>
<line x1="1801.2" y1="1344.8" x2="1940.6" y2="1344.8" stroke="#111" stroke-width="2"/>
<text font-size="26.9" transform="translate(1779.1 1372.1) rotate(0) scale(1 1.05)"><tspan font-style="italic">P</tspan> = 0.9055</text>
<line x1="1801.2" y1="1377.7" x2="1876.7" y2="1377.7" stroke="#111" stroke-width="2"/>
<text font-size="26" text-anchor="end" transform="translate(1812.59 1839.75) rotate(-45)">mCherry control</text>
<text font-size="26" text-anchor="end" transform="translate(1881.52 1841.78) rotate(-45)">1603 sponge</text>
<text font-size="26" text-anchor="end" transform="translate(1953.24 1841.78) rotate(-45)">3492 sponge</text>
<text font-size="26" text-anchor="end" transform="translate(2023.44 1841.78) rotate(-45)">1603 &amp; 3492 sponges</text>
</svg>
</body>
</html>
